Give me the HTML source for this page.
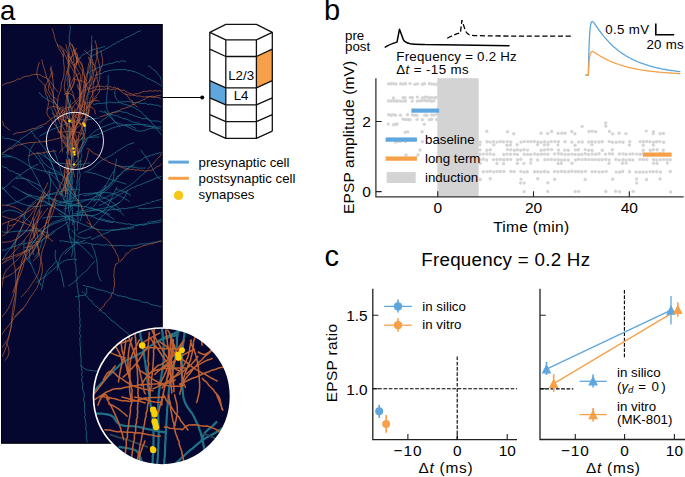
<!DOCTYPE html><html><head><meta charset="utf-8"><style>html,body{margin:0;padding:0;background:#fff;overflow:hidden}svg{display:block}text{font-family:"Liberation Sans",sans-serif}</style></head><body>
<svg width="685" height="477" viewBox="0 0 685 477">
<defs>
<clipPath id="rc"><rect x="1" y="24" width="161.6" height="419.6"/></clipPath>
<clipPath id="cc"><circle cx="162" cy="396.5" r="68.5"/></clipPath>
<g id="nrn"><g fill="none" stroke="#23778c" style="stroke-width:var(--tw)" stroke-linecap="round" stroke-linejoin="round">
<path d="M68.7 230.3L69.7 229.1 68.6 227.5 69 226.4 69 224.6 69.3 222.9 69.8 220.7 68.9 218.8 69.1 216.2 69.2 214 69.6 211.6 71.1 209.1 70.3 206.3 69.9 204.5 70 202 70 199.1 70.1 197.3 70.5 195.5 70 193.7 69.9 191.5 69.8 189.6 69.7 187.8 69.1 185.2 69.1 183.6 69.2 181.1 68.6 179.3 68.3 177.1 68.1 174.6 67.5 172.5 67.9 171 67.9 168.7 67.7 166.5 67.3 164.4 67.8 161.9 66.9 160.6 67.3 158.2 67.5 155.4 68.1 154.4 67.4 152 67.5 149.4 67.6 147.9 68.1 146 67.9 144.2 67.8 142 68.6 139.6 67.8 137.3 68.7 135.8 69.3 133.2 68.9 131.8 68.9 128.7 69.4 128.2 69.5 125 69.1 123.3 70.1 121.3 69.3 119.7 69.2 117.8 69 115 69.4 113.7 69.3 111.3 68.3 108.9 68.6 106.9 69 104.9 68.9 103 68.4 100.9 68.5 99.1 68.1 96.7 67.7 95.3 68.5 92.6 67.7 90.2 67.9 88.7 68.5 86.7 67.4 83.7 68.1 82.7 67 80.7 67 79.9 68 76.8 67.6 73.6 67.7 71.7 68 69.2 67.5 68.2 68.5 65.1 67.5 63.6 68.5 60.8 68.1 58.7 68 56.6 69 55 69.4 52.7 68.8 50.4 68.9 48.3 68.5 47.2 69.7 45.5 69.8 43.6 69.2 42 69.4 40.1 69.1 36.4 69.8 34 69.8 31.9 70.2 29.5 70.6 27.3 69.6 26.4 70.1 25.4 M77.1 230.2L77.4 230.1 77.2 228.6 77.6 227.3 77.3 224.9 77.4 223.9 78.1 221.2 77.9 219.2 78 216.8 77.9 214.1 77.9 212.8 78.4 209.8 78.3 207.4 78.6 204.7 78.6 202.6 78.4 199.9 78.4 197.5 79.2 195.2 78.8 193.9 78.8 192.2 79.5 190.2 79.1 188 79.2 186.5 79.2 183.8 79 181.7 79 180.5 79.7 177.9 80.2 175.7 80.1 174.1 79.4 171.2 79.7 170 80.6 167.2 80.6 165.4 80.3 163.3 80.4 160.8 80.4 158.9 81.1 158.1 82 155.3 80.7 153.3 81.1 152.1 81.9 149.2 82.2 147.6 81.5 145.3 82.3 143.5 82.6 141.3 82.9 139.2 82.8 138 83.4 135.6 83 133.4 84.1 131 84.4 129.3 84.4 127.4 84.6 125.9 84.6 124.1 84.7 121.2 85.5 119.2 85.4 117.8 86.2 114.9 86.2 114.1 86.7 111.4 86.3 109.4 86.4 107.4 87 105.4 87.7 103.4 87 101.9 87.4 99.4 88 97.4 87.9 95.4 89.3 93.3 88.7 91.8 89.2 89.7 89.5 86.6 89.1 85.2 89.8 83.5 89.9 80.8 89.9 78.9 90.1 77.1 90.1 74.5 90 72.9 90.9 70.6 90.9 68.2 90.7 65.8 90.4 63.2 90.6 61.1 90.8 58.5 91.2 56.7 90.9 53.6 91.5 51.3 91.5 49.3 91.4 46.8 91.7 45.3 91.2 44.3 91.8 43 91.8 40.1 91.7 39.3 91.8 37.6 92 36 M72.5 224.5L72.5 223.3 73 222 72.9 220.3 72.2 218.3 72.3 216.3 72.4 214.4 72.6 211.1 72 209.5 72.5 207.5 70.9 204.9 71.2 202.6 70.8 199.8 71 197.4 70.7 194.5 71 193.3 70.7 190.5 70.8 188.9 70.7 186.6 71.3 184.2 70.7 181.8 70.7 180.2 70.7 178.2 71.8 176.3 71.2 175.1 71.4 171.7 71.6 170 72.2 167.9 71.5 165.7 71.7 163.9 71.7 162 71.5 160.4 71.9 158.1 71.2 155.7 71.4 154.9 71 151.8 70.7 149.6 70.4 147.9 71.1 145.9 70.2 143.3 70.2 141.8 69.5 139.4 69.7 138.1 69.8 135.8 69.3 133.9 69.2 132.6 68.8 129.8 69.5 127.9 69.6 125.8 69.1 123.4 68.7 120.9 70 119.1 69.6 116.8 69.7 114.6 69.5 111.9 70.1 109.6 69.5 107.6 69.9 106 70 103.6 70.2 102.9 70.4 101.1 70.5 100 M39.6 92.7L39.5 93.5 41.5 94.7 42 96.2 44.5 97.6 47 99.3 48.1 100.3 50.1 101 52.6 102.2 54.6 103.1 56.5 104.9 58.2 106.1 59.7 107.5 61.8 109.2 64.2 111.6 64.9 113.3 66.9 115.8 67.6 116.3 68.2 118 M86.7 73.9L87.4 73.6 88.7 73 90.5 71.4 92.5 70.3 95.2 69.5 96.4 68 98.5 67.5 101.1 66.7 103.2 65 105.6 65.1 107.8 64 109.8 63.6 111.8 63.5 114.5 62.5 116.2 61.4 119.1 62.2 121.6 60.6 123.3 61.2 125.6 61.2 M78.4 58.1L79.6 58 81.2 56.6 82.6 54.7 84.6 54.1 86.4 53.1 88.8 51.7 90.7 50.3 93.7 49.6 95.6 49 97.8 48.2 99.9 48.1 102.8 46.9 103.9 47 104.9 46.5 M148.5 66.1L149.8 66.4 151.9 68.1 153.2 69.5 155.9 71.1 156.9 72.6 157.6 74 159.5 75.9 160.3 77.1 161.5 80.2 161.9 82.9 161.9 84.8 162.5 87.9 162.1 88.8 M93.2 104L94.7 104.3 96 103.8 97.7 103.6 99.3 103.3 101.3 103.6 102.3 103.4 105 102.9 106.9 103.1 109.3 101.7 111.5 102.7 114.1 102.6 116.1 103 119 102.1 121.4 102.1 123.3 101.5 125.8 101.8 126.8 101.3 129.7 101.8 131.8 102.1 134 102.6 136 102.2 138.7 102.8 141.2 103.4 143.1 103.6 145.8 103.2 147.8 104.6 150.4 104 151.3 104.3 153.9 104.9 156.9 105.4 157.9 105.1 158.9 105.6 160.5 106.9 161.6 105.8 M115.4 90.8L114.5 91.6 115 94.9 115.5 97.3 116.6 99.1 118.1 100.8 119.3 102.3 120.6 102.8 122.1 103.7 125 104.3 126.9 104.9 129.1 105.5 131.4 106.6 133.7 107.3 135.4 108.3 138.2 110.1 139.6 111 141.6 112 142.3 113.4 144.1 115.2 146.3 116.6 146.6 118.3 149.2 119.3 150.7 121.4 151.7 122.8 152.7 124.4 155.3 126.1 155.4 127.1 156.1 128.3 158.5 131.5 160.4 133.5 161.4 135 162.7 135.9 M100 111.2L100.8 111 102.7 112.2 104.5 112 106.4 113.1 108.4 113.8 110.4 114.3 113.1 114.8 114.5 115.6 117.3 115.7 119.1 117.2 121.2 117.6 122.9 118.6 126.1 119 127.2 119.4 129.7 120.6 131.1 121.7 133.7 122.2 134.8 122.7 137.8 123 140.2 124.6 142.2 124.4 143.9 125.6 146.9 126.3 149.4 126.4 151.3 126.3 154.2 128.3 156.1 127.9 158.6 128.7 159.8 128.7 161.6 130 163 129.9 M2.1 136.5L3.6 137.7 4.4 138.4 6.4 138.6 8.5 138.5 10.5 139.2 13.1 140 15.9 140.6 17.2 141.3 19.2 142 21.1 143.9 23.1 144.6 24.9 146.2 26.6 147.4 27.8 148.3 29.3 149.7 30.8 151.1 32.6 152.7 34.1 154.2 36.2 155.9 36.9 157.9 38.4 159.3 40 160.6 40 162.9 42.6 164 43.1 166.5 43.8 167.9 45.2 170 46.1 172.3 47.8 174.1 48.9 175.1 50 177.3 51.1 179.3 52.1 181.3 53.5 183.4 53.9 184.7 56.1 186.9 56.8 188.7 58.3 191.1 59.9 192.9 62 194.2 62.2 195.9 63.3 198.5 65.1 200.3 65.3 200.8 67.4 202.7 67.9 203.6 M-0.2 165.2L1 165.5 3.2 166.4 3.9 167.5 6.7 167.6 7.5 169 9.6 170.8 12.1 171 14.2 172 15.9 173.5 19 173.9 20.2 176.3 21.9 177.6 23.5 178.1 24.9 178.9 27.2 180 28.2 181.5 29.6 182.1 31.3 184.2 33.2 185.7 34.7 186.5 36.5 188.2 37.8 188.6 39.5 190.7 42 191.2 43.6 193.1 46.1 193.9 47.6 195.9 50.7 197.3 51.5 198.2 53.8 199.2 55.6 200.2 57.5 202.1 59.3 202.6 60.4 203 61.4 204.3 M163.6 152L162.2 152.1 161 153.1 159.8 152.7 157.2 153.6 155.7 153.7 153.9 154.6 151.5 155.1 149 155.9 146.4 157.1 144.8 157.2 142.5 159.3 140.3 160.4 138.6 160.9 136.6 161.6 134.7 162.7 133.7 164.4 132.3 165.5 129.8 166.8 128.3 168.6 127.3 169.7 124.5 170.6 123.2 171.9 121.6 173.8 120 175 117.7 176.1 116.4 178.2 115.4 179.4 113.5 180.6 112 182.4 110.3 183 108.6 185.4 106.4 187.2 105 188.7 102.6 190.6 101.8 192.2 99.6 194.1 98.9 195.6 97.5 196.9 95.9 198.6 94.9 199.7 95.2 200.9 93.3 201 M163.6 175.7L162.3 176.3 160.4 176.6 158.5 177.8 157.2 177.7 155 178.5 152 180 149.8 180.8 148 181.6 145.8 182.6 143.5 183.3 141.4 184.3 139.2 185.1 137.9 185.6 135.7 186.3 133.6 187.4 131.7 187.9 130 189.2 128.3 190.3 125.8 191.5 124.5 191.7 122.7 193 121.4 193.6 119.5 194.1 117.8 195.5 115.5 197 114.2 198.1 111.2 199.5 109.2 200.1 107 201.5 105.5 202.4 103.4 203.4 101.7 204.7 100.3 205 99.3 205.4 M162.9 198.3L161.5 199.2 160.1 199.5 158.9 200.1 155.8 200.4 154.6 201.4 151.7 201.5 149.8 203.4 146.9 202.9 145.2 204.2 142.5 204.9 140.1 205.7 138.9 206.1 136.4 206.7 134.7 206.9 132.4 207.3 131 207.9 128.8 207.9 126.5 208.4 125 208.7 122.6 208.2 120.7 208.8 118.4 209.3 117 209.5 115.1 209.7 112.1 209.5 110 210.1 108 210.1 105.6 209.9 102.7 210.8 100.5 210.7 97.3 209.8 95.5 210.8 94.3 210.2 91.6 210.1 90.1 210.7 89.1 211.2 M163.9 221.3L162.5 221.8 160.7 221.6 159.3 222.2 156.5 222.7 153.9 223 151.5 223.3 148.9 223.6 147.3 224.1 144.2 225.1 142.1 225.2 140.1 224.3 138.5 224.7 135.9 225.2 133.1 224.7 131.2 224.7 129.3 223.8 127.3 224.2 125 223.8 122.8 223.2 120.9 222.9 119.1 222.9 116.6 222.4 114 221.3 111.8 221.8 109.1 220.7 106.7 220.7 104.6 219.5 102.5 219.2 100.9 218.8 99.4 219.4 M89.3 58.7L90 57.5 91.6 56.9 92.6 55.4 95.4 54.6 97.2 53.1 99.3 51.9 102.8 50.4 104.6 49.7 105.8 48.7 107.4 48.2 109.6 46.7 111.3 45.7 112.9 44.5 115 43.8 117.4 41.9 119.1 41.8 120.6 40.1 123.2 39.5 124.5 38.2 126.8 37.4 128.9 36.6 131.2 35.3 132.9 34.4 135 33.4 136.6 32.4 138.2 31.5 139.9 31.4 140.7 30.6 M95 75.2L96.7 74.4 98.5 74.4 99.7 73.2 101.9 73.7 105 71.3 106 71.6 108.9 70.5 111.5 70.2 113.7 69.8 115.3 69.9 117.5 69.8 120 69.4 121.8 69.5 123.2 69.6 126 69.5 127.4 70.8 130.2 70.3 132 71.2 134.1 71.7 135.5 72 137.8 73 139.7 73.9 141.8 75.2 143.7 75.6 145.7 77.6 147.8 78.5 150.1 79.2 151.9 80.5 154 81.4 156.3 82.5 158.5 83.9 160.8 85.4 162.1 86.5 164 86.9 M100.1 123.2L99.5 122.1 101.8 121.1 103.2 119.2 105 118.5 107.3 116.5 109.2 115.4 111.4 113.8 113.1 112.4 115.3 111.7 117.1 110.9 119.8 111 121.1 111.6 124.1 112.4 125.5 112.2 127.6 113 129.8 114.3 131.8 114.7 134.2 115.9 136.2 116.4 138.1 117.1 140.8 117.9 141.6 118.7 144.9 118.7 147.1 118.4 148.9 120.4 152.5 121.2 153.7 120.9 156.3 120.9 158.6 121.4 159.8 121.6 161.3 122.3 162.7 122.1 M77 211.4L78.9 211.2 80.9 210.9 82.9 210.7 84.9 210.3 86.8 209.8 88.7 209.1 90.5 208.3 92.3 207.4 93.8 206.1 95.2 204.6 96.3 203 97.4 201.3 98.5 199.6 99.4 197.8 100.3 196.1 101.2 194.3 102.1 192.5 103.1 190.8 104.1 189 105.1 187.3 106.1 185.6 M98.5 199.6L100.2 200.7 102 201.5 103.7 202.4 105.5 203.4 107.2 204.5 108.8 205.6 110.5 206.7 112.2 207.7 114 208.6 115.8 209.4 117.7 210.2 119.4 211.3 121 212.5 122.4 213.9 123.7 215.4 M79.5 206.2L77.5 206 75.5 205.8 73.5 205.6 71.5 205.4 69.5 205.3 67.5 205.3 65.5 205.3 63.5 205.3 61.5 205.3 59.5 205.2 57.5 205.2 55.5 205.1 53.5 205.1 51.5 205 49.5 204.9 47.5 205 45.5 205.2 43.6 205.4 41.6 205.8 39.6 206.2 37.7 206.5 35.7 206.5 33.7 206.5 31.7 206.2 29.7 205.9 27.7 205.5 25.8 205 23.9 204.4 22 203.8 20.1 203.1 18.3 202.3 16.5 201.4 14.8 200.3 13.3 199 11.9 197.6 10.5 196.2 9.1 194.7 7.7 193.2 6.4 191.8 5.1 190.2 3.8 188.7 2.5 187.2 1 185.9 -0.7 184.8 -2.3 183.6 -4 182.6 -5.8 181.6 -7.6 180.8 -9.5 180.1 M6.4 191.8L4.9 190.4 3.5 189 1.9 187.8 0.4 186.5 -1.3 185.4 -3 184.3 -4.7 183.3 -6.5 182.5 M70.3 219.6L68.3 219.6 66.3 219.8 64.4 220.2 62.4 220.7 60.5 221.3 58.6 221.9 56.7 222.6 54.8 223.3 53 224.1 51.2 225 49.5 225.9 47.8 227 46.2 228.2 44.7 229.5 43.3 231 42.1 232.5 40.7 234 39.3 235.5 38 236.9 36.6 238.4 35.2 239.8 34 241.4 32.9 243.1 31.8 244.8 31 246.6 30.4 248.5 29.8 250.4 29.6 252.4 29.4 254.4 29.4 256.4 29.5 258.4 29.9 260.4 30.4 262.3 31.1 264.2 31.9 266 32.6 267.9 33.4 269.7 34.2 271.6 35 273.4 35.9 275.2 36.8 276.9 37.8 278.7 38.6 280.5 39.6 282.3 40.4 284.1 41.2 285.9 M31.1 264.2L29.7 262.7 28.5 261.2 27.3 259.5 26.4 257.8 25.5 255.9 24.9 254.1 24.4 252.1 24 250.2 23.8 248.2 23.8 246.2 23.9 244.2 24.1 242.2 24.2 240.2 M68.3 211.5L68.5 209.5 68.4 207.5 68.4 205.5 68.3 203.5 68.1 201.5 67.9 199.5 67.7 197.5 67.7 195.5 67.7 193.5 67.7 191.5 67.8 189.5 68.1 187.5 68.3 185.5 68.5 183.5 68.7 181.5 68.9 179.6 69.2 177.6 69.6 175.6 70 173.6 70.4 171.7 70.8 169.7 71.2 167.8 71.4 165.8 71.5 163.8 71.5 161.8 71.7 159.8 71.9 157.8 72.4 155.9 73 153.9 73.7 152.1 M68.8 185.9L68.3 187.8 67.9 189.8 67.6 191.8 67.3 193.7 67.1 195.7 67 197.7 66.9 199.7 66.7 201.7 66.4 203.7 65.9 205.6 65.6 207.6 65.4 209.6 65.2 211.6 65.1 213.6 65.1 215.6 65.1 217.6 65.6 219.5 66.1 221.5 66.6 223.4 67.3 225.3 67.9 227.2 68.5 229.1 68.8 231.1 69.1 233.1 69.4 235 69.8 237 70.2 238.9 70.8 240.9 71.5 242.7 72.2 244.6 72.7 246.5 72.8 248.5 72.7 250.5 72.4 252.5 72 254.5 71.6 256.4 M79.3 205.3L77.3 205 75.3 204.7 73.3 204.3 71.4 204 69.4 203.7 67.4 203.4 65.5 202.8 63.6 202.2 61.7 201.7 59.7 201.2 57.8 200.6 55.9 200.1 53.9 199.6 52 199.1 50 198.7 48.1 198.4 46.1 198.1 44.1 197.9 42.1 197.6 40.1 197.4 38.2 197 36.2 196.6 34.3 196.2 32.3 195.7 30.4 195.2 28.5 194.6 26.6 193.8 24.8 193 23 192.1 21.2 191.2 19.5 190.2 17.8 189.2 16.1 188.2 14.3 187.2 12.5 186.3 M30.4 195.2L28.6 196.1 26.8 197 25 197.9 23.2 198.8 21.4 199.7 19.7 200.6 17.9 201.5 16 202.4 14.2 203 12.2 203.6 10.3 204 8.3 204.5 6.4 205 M60.1 202.6L62 202.3 64 202 66 201.8 68 201.5 70 201.4 72 201.2 73.9 200.9 75.9 200.7 77.9 200.5 79.9 200.3 81.9 200.1 83.9 199.9 85.9 199.7 87.9 199.7 89.9 199.7 91.9 199.7 93.9 199.7 95.9 199.6 97.9 199.6 99.9 199.3 101.8 198.9 103.7 198.3 105.6 197.5 107.4 196.7 109.2 195.8 111 195 112.8 194.2 114.7 193.4 116.5 192.7 118.4 191.9 120.2 191.1 122 190.3 123.8 189.3 125.5 188.2 127.1 187.1 128.8 186 130.4 184.9 132.1 183.7 133.7 182.5 135.2 181.2 136.7 179.9 138.1 178.5 139.6 177.1 141.1 175.8 142.6 174.5 144.1 173.2 145.7 172 147.3 170.8 M67.6 222.2L66 223.4 64.4 224.5 62.7 225.7 61.1 226.8 59.4 228 57.7 229 55.9 229.9 54.2 230.9 52.5 231.9 50.8 233.1 49.3 234.3 47.7 235.5 46 236.7 44.4 237.9 42.9 239.1 41.4 240.5 40 241.9 38.7 243.4 37.5 245.1 36.4 246.7 35.3 248.4 34.2 250 33.1 251.7 31.9 253.3 30.8 255 29.7 256.6 28.6 258.3 27.4 259.9 M42.9 239.1L42.2 241 41.6 242.9 41 244.8 40.4 246.8 39.9 248.7 39.1 250.5 38.3 252.3 37.2 254 36 255.6 34.7 257.1 M79.1 189.5L77.2 189.3 75.2 189.2 73.2 189.2 71.2 189.2 69.2 189.3 67.2 189.7 65.3 190.2 63.3 190.7 61.4 191.3 59.5 191.7 57.5 192.1 55.5 192.5 53.6 193 51.7 193.6 49.8 194.2 47.9 194.9 46.1 195.7 44.3 196.7 42.7 197.8 41.2 199.2 39.9 200.6 38.6 202.2 37.4 203.8 M67 216.7L65.3 217.7 63.5 218.5 61.6 219.2 59.7 220 57.8 220.6 55.9 221.2 54.1 222 52.3 222.9 50.6 224 49 225.2 47.5 226.4 46 227.8 44.7 229.3 43.4 230.8 42 232.3 40.7 233.7 39.3 235.2 38 236.7 36.7 238.2 35.3 239.7 34.1 241.2 32.9 242.8 31.7 244.5 30.5 246.1 29.5 247.8 28.7 249.6 27.9 251.5 M43.4 230.8L41.4 230.4 39.5 229.7 37.8 228.8 36.1 227.7 34.5 226.4 33.1 225.1 31.7 223.6 30.2 222.3 28.7 221 27.1 219.7 25.5 218.5 23.9 217.3 22.3 216.2 20.5 215.2 M61.2 190.4L62.8 189.2 64.3 188 65.8 186.7 67.2 185.2 68.3 183.5 69.4 181.8 70.2 180 71 178.2 71.6 176.3 72.3 174.4 72.9 172.5 73.4 170.5 73.7 168.6 73.9 166.6 74 164.6 73.9 162.6 73.8 160.6 73.7 158.6 73.4 156.6 73 154.7 72.6 152.7 72.2 150.7 71.8 148.8 71.2 146.9 70.4 145 69.6 143.2 68.6 141.5 67.4 139.8 66.1 138.4 64.6 137.1 63.1 135.7 61.6 134.4 60.2 133 58.9 131.4 57.9 129.7 57.2 127.8 56.6 125.9 56.1 124 55.6 122 55.2 120.1 54.8 118.1 54.2 116.2 53.6 114.3 53 112.4 52.3 110.5 51.6 108.7 M63.5 203.2L65.2 202.2 66.9 201.2 68.6 200.2 70.4 199.2 72.1 198.1 73.8 197.1 75.6 196.3 77.5 195.5 79.3 194.8 81.3 194.3 83.2 193.9 85.2 193.6 87.2 193.5 89.2 193.4 91.2 193.2 93.2 193.1 95.2 193 97.2 192.8 99.2 192.7 101.2 192.6 103.2 192.6 105.2 192.6 107.2 192.6 109.2 192.8 111.1 193.2 113.1 193.5 115 194 116.9 194.7 118.8 195.5 120.6 196.3 122.3 197.3 124.1 198.2 125.9 199.2 127.5 200.2 129.2 201.4 M95.2 193L97 193.8 98.7 194.9 100.3 196 102.1 197 103.9 197.8 105.7 198.6 107.6 199.4 109.3 200.4 111 201.4 112.7 202.6 114.3 203.8 115.8 205.1 117.1 206.5 118.5 208 119.8 209.6 121 211.1 M75.5 199.5L73.8 198.5 72.2 197.3 70.7 196 69.2 194.6 68.1 193 67.2 191.2 66.5 189.3 66 187.4 65.3 185.5 64.9 183.5 64.5 181.6 64 179.6 63.5 177.7 62.8 175.8 62 174 61.2 172.2 60.6 170.2 60.1 168.3 59.6 166.4 58.9 164.5 58.3 162.6 57.6 160.7 57 158.8 56.4 156.9 55.7 155 54.8 153.2 53.9 151.4 53.1 149.6 M83.9 195.5L85.9 195.3 87.9 195.1 89.9 194.8 91.8 194.3 93.7 193.8 95.7 193.2 97.6 192.6 99.4 191.9 101.2 191.1 103 190.2 104.8 189.2 106.5 188.1 108 186.9 109.5 185.5 110.8 184 111.9 182.3 112.7 180.5 113.3 178.6 113.7 176.6 113.9 174.7 114.2 172.7 114.5 170.7 114.8 168.7 115.2 166.8 115.6 164.8 116 162.8 116.3 160.9 116.5 158.9 M115.6 164.8L117.5 165.6 119.4 166 121.4 166.3 123.4 166.5 125.4 166.5 127.4 166.4 129.4 166.5 131.4 166.8 133.3 167.2 135.3 167.5 137.3 167.9 139.3 168.1 141.3 168.2 143.3 168.1 145.3 168 M76.5 216.4L77.9 214.9 79.3 213.4 80.6 211.9 81.9 210.5 83.3 209 84.7 207.5 86.1 206.2 87.6 204.8 88.9 203.3 90.3 201.9 91.6 200.4 93 198.9 94.3 197.4 95.6 195.9 97 194.5 98.4 193 99.8 191.6 101.2 190.1 102.5 188.6 103.9 187.2 105.2 185.7 106.5 184.1 107.5 182.4 108.5 180.7 109.4 178.9 110.3 177.1 111.2 175.3 112.3 173.6 113.4 172 114.5 170.3 M66.2 206.3L64.2 205.9 62.2 205.4 60.3 204.9 58.4 204.3 56.6 203.5 54.9 202.4 53.3 201.1 51.8 199.8 50.3 198.6 48.7 197.3 47.2 196 45.8 194.5 44.7 192.9 43.6 191.2 42.5 189.5 41.5 187.8 40.5 186.1 39.7 184.3 38.9 182.4 38.1 180.6 37.2 178.8 36.1 177.1 35.2 175.4 34.2 173.6 33.2 171.8 32.3 170.1 31.3 168.4 30.3 166.6 29.5 164.8 29 162.9 28.7 160.9 28.6 158.9 28.8 156.9 29.1 154.9 29.4 152.9 30 151 30.7 149.2 31.6 147.4 32.7 145.7 33.8 144 35 142.4 M40.5 186.1L38.8 185.1 37 184.2 35.2 183.3 33.4 182.5 31.6 181.5 29.8 180.6 28 179.9 26.1 179.3 24.2 178.7 22.2 178.3 20.2 178.2 18.2 178.3 16.2 178.6 M63.9 209.1L65.8 208.5 67.7 207.8 69.5 207 71.3 206.1 73.1 205.2 74.9 204.3 76.8 203.6 78.6 203 80.5 202.3 82.5 201.7 84.3 201 86.2 200.3 88.1 199.6 90 199 91.9 198.4 93.7 197.6 95.5 196.7 97.3 195.9 99.2 195.1 101 194.2 102.6 193.1 104.3 191.9 105.8 190.7 107.3 189.4 108.8 188 110.2 186.6 111.6 185.1 112.9 183.7 114.2 182.1 115.4 180.6 116.6 179 117.9 177.4 119.1 175.8 120.4 174.3 121.7 172.8 123.1 171.4 124.7 170.1 126.4 169.1 128.1 168.1 129.9 167.1 131.7 166.2 133.5 165.4 M69.9 191L71.2 192.6 72.4 194.2 73.6 195.8 74.9 197.3 76.2 198.8 77.5 200.4 78.8 201.9 80 203.5 81 205.2 81.7 207.1 82.1 209.1 82.2 211 82.2 213 81.9 215 81.4 217 80.8 218.9 80.2 220.8 M69.1 198.9L69.6 197 70.1 195.1 70.6 193.1 71.1 191.2 71.6 189.2 71.9 187.3 72.1 185.3 72.2 183.3 72.3 181.3 72.3 179.3 72.2 177.3 72 175.3 71.8 173.3 71.5 171.3 71.2 169.3 70.8 167.4 70.4 165.4 69.8 163.5 69.3 161.6 68.7 159.7 68.1 157.8 67.5 155.9 67 153.9 66.4 152 M72.2 183.3L71.8 181.3 71.3 179.4 70.6 177.5 70 175.6 69.3 173.7 68.4 171.9 67.3 170.3 66.1 168.6 M71.9 202.1L72.8 200.3 73.5 198.4 74.1 196.5 74.7 194.6 75.3 192.7 75.9 190.8 76.4 188.8 76.8 186.9 77 184.9 77.1 182.9 77.2 180.9 77.4 178.9 77.5 176.9 77.6 174.9 77.8 172.9 77.9 170.9 78.1 168.9 78.1 166.9 78.2 164.9 78.2 162.9 78.2 160.9 78.2 158.9 78.4 157 78.7 155 79.2 153 79.7 151.1 80.4 149.2 81.3 147.4 82.2 145.7 83.2 143.9 84.2 142.2 85.3 140.5 86.4 138.9 M61.3 194.4L59.4 194.1 57.4 194 55.4 194 53.4 194.1 51.4 194.3 49.4 194.7 47.5 195.2 45.6 195.8 43.7 196.5 41.8 197.3 40 198 38.2 198.9 36.5 199.9 34.8 201.1 33.3 202.4 31.8 203.7 30.4 205.2 29.1 206.7 27.9 208.2 26.8 209.9 25.8 211.6 25.2 213.5 24.7 215.5 24.2 217.4 23.9 219.4 23.5 221.4 23.1 223.3 22.6 225.3 21.9 227.1 21.2 229 20.6 230.9 20 232.8 19.4 234.7 18.6 236.6 17.8 238.4 16.7 240.1 15.6 241.7 14.4 243.4 13.4 245.1 12.5 246.9 11.6 248.7 M24.7 215.5L22.9 214.5 21.2 213.5 19.3 212.7 17.5 212 15.6 211.3 13.7 210.7 11.7 210.3 9.7 210.1 7.8 210.3 5.8 210.8 4 211.6 2.4 212.7 1 214.2 -0.2 215.8 M75.2 194.8L74.8 192.9 74.3 190.9 73.5 189.1 72.5 187.4 71.4 185.7 70.3 184 69 182.5 67.7 181 66.3 179.6 64.9 178.2 63.5 176.7 62.1 175.3 60.6 173.9 59 172.7 57.3 171.6 55.6 170.6 53.8 169.8 52 169 50.2 168 48.5 166.9 47 165.7 45.4 164.4 44 163 42.7 161.5 41.6 159.8 40.5 158.1 39.5 156.4 38.4 154.7 37.3 153.1 M74.3 213.7L76.3 213.5 78.2 213.2 80.2 213 82.2 212.6 84.1 212.2 86.1 211.8 88.1 211.3 90 210.9 92 210.4 93.9 209.9 95.9 209.5 97.8 209.1 99.8 208.8 101.8 208.4 103.7 208.2 105.7 207.9 107.7 207.5 109.6 207 111.5 206.4 113.4 205.7 115.2 205 117 204 118.7 203 120.3 201.8 121.8 200.5 123.1 199 124.3 197.3 125.4 195.6 126.2 193.8 126.9 192 127.6 190.1 M69.2 205.4L71.2 205.3 73.2 205.5 75.2 205.6 77.2 205.8 79.2 205.9 81.2 206.1 83.1 206.4 85.1 206.7 87.1 207.1 89 207.6 90.9 208.2 92.9 208.7 94.8 209.2 96.7 209.7 98.7 210.1 100.6 210.7 102.5 211.4 104.3 212.1 106.2 212.8 108 213.7 109.8 214.6 M92.9 208.7L94.8 209.3 96.7 209.8 98.6 210.3 100.5 211 102.3 211.9 104.1 212.9 105.8 213.9 107.4 215 109.1 216.1 110.8 217.2 112.5 218.3 114.1 219.4 M68.2 216.6L70.1 216.2 72.1 215.9 74.1 215.6 76.1 215.4 78.1 215.4 80.1 215.4 82.1 215.5 84 215.6 86 215.6 88 215.7 90 215.7 92 215.6 94 215.3 96 214.8 97.8 214.1 99.6 213.2 101.4 212.2 103.1 211.1 104.6 209.9 105.9 208.4 107.1 206.8 108.2 205.1 109.2 203.3 110.1 201.5 110.9 199.7 111.7 197.9 112.5 196.1 113.4 194.3 114.2 192.5 115.1 190.6 116 188.9 117.1 187.2 M116 188.9L117.9 189.5 119.7 190.3 121.6 190.9 123.5 191.6 125.4 192.4 127.2 193.2 128.9 194.2 130.6 195.2 M59 213.7L60.7 214.6 62.5 215.6 64.3 216.6 66 217.5 67.8 218.3 69.7 219.1 71.6 219.8 73.4 220.5 75.3 221.3 77.1 222 79 222.8 80.8 223.5 82.7 224.3 84.5 225 86.4 225.7 88.3 226.4 90.2 227.1 92.1 227.8 93.9 228.5 95.8 229.1 97.8 229.6 99.8 229.8 101.7 230.1 103.7 230.2 105.7 230.2 107.7 230.2 109.7 230.1 111.7 230 113.7 229.8 115.7 229.6 117.7 229.5 119.7 229.4 121.7 229.3 123.7 229.2 125.7 229 127.7 228.7 129.7 228.5 131.6 228.2 133.6 227.8 M65 177.5L63.3 176.4 61.6 175.4 59.7 174.6 57.8 174 55.9 173.6 53.9 173.2 51.9 172.8 50 172.5 48 172.1 46.1 171.6 44.1 171.1 42.2 170.6 40.3 170.2 38.3 169.7 36.4 169.2 34.5 168.6 32.6 167.9 30.8 167 29.1 166 27.4 164.9 25.7 163.8 24 162.7 22.3 161.7 20.6 160.6 18.9 159.7 17.1 158.8 15.3 158 13.4 157.3 11.5 156.6 9.6 156 7.6 155.6 5.7 155.1 3.7 154.7 1.8 154.3 -0.2 153.9 -2.2 153.6 -4.2 153.5 M11.5 156.6L9.5 156.7 7.5 156.7 5.5 156.9 3.5 156.8 1.5 156.9 -0.5 156.9 -2.5 156.9 -4.5 157.1 -6.5 157.4 -8.4 157.7 -10.4 157.9 -12.4 158.1 -14.4 158.2 M74.1 195.1L72.6 193.8 71 192.6 69.4 191.4 68 190 66.6 188.5 65.3 187 64 185.5 62.5 184.2 61 182.9 59.4 181.6 57.9 180.3 56.4 179 54.8 177.7 53.4 176.3 51.9 175 50.5 173.6 49 172.2 M57.9 180.3L57.5 178.3 56.8 176.5 56 174.6 55.1 172.8 54.5 170.9 53.8 169.1 53.1 167.2 52.4 165.3 51.5 163.5 50.5 161.8 49.2 160.3 47.8 158.9 46.2 157.6 44.6 156.5 42.9 155.4 41.1 154.4 39.4 153.4 37.6 152.5 M75.5 219.6L73.7 218.6 71.9 217.7 70.1 216.9 68.3 216.1 66.5 215.1 64.8 214.2 63.1 213.1 61.4 212 59.7 210.9 58 209.8 56.4 208.7 54.7 207.6 53.1 206.5 51.5 205.3 49.8 204.2 48.1 203.1 46.4 202 44.8 200.9 43.2 199.7 M49.8 204.2L49.2 202.3 48.8 200.3 48.7 198.3 49 196.3 49.3 194.4 49.7 192.4 49.9 190.4 50 188.4 50.3 186.4 50.5 184.4 50.6 182.4 50.4 180.4 50.1 178.5 49.7 176.5 49.4 174.5 49.3 172.5 49.2 170.5 M74.2 222L72.4 221 70.8 219.8 69.3 218.5 68 217 66.6 215.6 65 214.3 63.5 213 61.9 211.9 60.2 210.8 58.5 209.7 56.8 208.6 55.1 207.7 53.3 206.7 51.6 205.7 49.8 204.8 48.1 203.8 46.3 202.9 44.5 202.1 42.6 201.3 40.7 200.7 38.9 199.9 37 199.2 35.1 198.4 33.3 197.6 31.5 196.9 29.6 196.1 27.8 195.2 26.1 194.2 24.4 193.1 22.8 192 M35.2 228.2L33.3 228.8 31.4 229.5 29.5 230.1 27.7 231 25.9 231.8 24.2 232.8 22.5 233.9 20.9 235.2 19.5 236.6 18 237.9 16.6 239.4 15.4 240.9 14.2 242.6 13.1 244.2 12 245.9 10.8 247.5 9.6 249.1 8.5 250.7 7.3 252.4 6.2 254 5.2 255.7 4.2 257.5 3.1 259.2 2 260.8 0.7 262.3 -0.6 263.9 -2.1 265.2 -3.7 266.4 M89.7 162.7L87.8 163.2 85.8 163.7 83.9 164.1 81.9 164.3 79.9 164.6 77.9 164.9 75.9 164.9 73.9 164.7 72 164.4 70 164 68 163.8 66 163.7 64 163.6 62 163.6 60 163.4 58.1 163.1 56.1 162.7 54.2 162.1 52.3 161.3 50.6 160.3 48.9 159.2 47.4 158 46 156.5 44.8 154.9 43.8 153.2 M120.2 126.6L118.6 125.4 117.2 124 115.7 122.7 114.4 121.2 113.2 119.6 112.1 117.9 110.9 116.3 109.8 114.6 108.7 112.9 107.9 111.1 107.1 109.3 106.5 107.4 106.2 105.4 106.2 103.4 106.3 101.4 106.5 99.4 106.7 97.4 106.8 95.4 107.1 93.4 107.3 91.5 107.6 89.5 107.8 87.5 107.9 85.5 108.1 83.5 108.2 81.5 108.2 79.5 108.2 77.5 108.1 75.5 M90.4 136.6L92.3 136.1 94.2 135.6 96.2 135.1 98.1 134.4 99.9 133.6 101.7 132.7 103.4 131.8 105.3 130.9 107.1 130.1 108.9 129.4 110.8 128.6 112.6 127.9 114.6 127.3 116.5 126.8 118.4 126.3 120.4 125.8 122.3 125.3 124.3 125.2 126.3 125.2 128.3 125.4 130.3 125.8 132.1 126.6 133.9 127.4 135.7 128.4 M59.7 152.5L60.8 150.8 62.1 149.3 63.5 147.9 65 146.6 66.7 145.6 68.5 144.6 70.3 143.7 72.1 142.9 73.9 142 75.7 141.1 77.5 140.3 79.4 139.6 81.3 139 83.2 138.5 85.2 138.2 87.2 137.9 89.2 137.6 91.1 137.4 93.1 137.2 95.1 137 97.1 137 99.1 137.1 M38.1 164.4L36.2 165.1 34.4 165.9 32.6 166.8 30.9 167.9 29.2 168.9 27.5 169.9 25.8 171 24.1 172.1 22.5 173.2 20.9 174.5 19.3 175.6 17.6 176.6 15.9 177.7 14.2 178.8 12.7 180.1 11.2 181.4 9.7 182.8 8.5 184.3 7.1 185.8 5.4 186.9 3.7 188 2 189 0.4 190.1 -1.3 191.3 -2.8 192.6 -4.3 193.9 -5.6 195.4 -6.8 197 -7.9 198.7 -8.8 200.5 -9.9 202.1 -11.1 203.8 -12.2 205.4 -13.3 207.1 -14.5 208.7 M46.8 232.6L44.9 232 43 231.5 41 231.2 39 231 37 230.9 35 230.8 33 230.8 31 230.7 29 230.6 27 230.6 25 230.7 23 230.9 21 231 19 231 17 231.2 15.1 231.4 13.1 231.6 11.1 231.9 9.1 232.2 7.1 232.3 5.1 232.3 3.1 232 1.3 231.3 -0.5 230.4 -2 229.1 -3.3 227.6 -4.3 225.8 -5.1 224 -5.8 222.1 -6.3 220.2 -6.7 218.2 -6.9 216.2 -7.1 214.2 -7.2 212.2 -7.4 210.2 -7.6 208.3 -7.8 206.3 -8 204.3 -8.2 202.3 M114.9 122.6L113 123.2 111.1 123.9 109.2 124.5 107.3 125.1 105.4 125.9 103.6 126.7 101.8 127.4 100 128.3 98.2 129.2 96.5 130.2 94.8 131.3 93.2 132.5 91.6 133.8 90.3 135.2 88.9 136.7 87.7 138.3 86.6 140 85.8 141.8 84.9 143.6 84.1 145.4 83.1 147.2 82.1 148.9 80.9 150.5 79.6 152 78.1 153.4 76.6 154.6 M113 222.5L111 222.3 109 221.9 107 221.6 105.1 221.2 103.2 220.6 101.2 220.1 99.4 219.4 97.5 218.8 95.6 218 93.8 217.2 91.9 216.4 90.1 215.7 88.2 215 86.2 214.6 84.3 214.3 82.3 214.4 80.3 214.6 78.3 214.9 76.3 215.2 74.3 215.4 72.4 215.8 70.4 216.1 68.4 216.3 66.4 216.4 64.4 216.5 62.4 216.6 60.4 216.7 58.4 216.7 56.4 216.6 54.4 216.6 52.4 216.7 50.4 216.7 48.4 216.9 46.5 217.3 44.5 217.7 42.6 218.2 M126 184L124.1 183.4 122.2 182.8 120.3 182.2 118.4 181.6 116.5 181.1 114.5 180.5 112.6 180 110.7 179.4 108.8 178.9 106.9 178.2 105 177.5 103.2 176.7 101.3 175.9 99.5 175.2 97.6 174.4 95.7 173.8 93.8 173.3 91.8 172.9 89.9 172.7 87.9 172.5 M125.5 124.5L127.5 124.6 129.5 124.6 131.5 124.6 133.5 124.5 135.5 124.4 137.5 124.4 139.5 124.3 141.5 124.3 143.5 124.4 145.4 124.7 147.4 125 149.3 125.6 151.2 126.2 153.2 126.7 155.2 127 157.2 127.1 159.2 127 161.2 127 163.2 126.9 165.2 126.9 167.1 127 169.1 127 171.1 126.9 173.1 126.8 175.1 126.6 177.1 126.5 M104.7 110.8L106 112.4 107.2 114 108.4 115.5 109.8 116.9 111.3 118.3 112.7 119.7 114.2 121.1 115.9 122.2 117.7 123.1 119.5 123.7 121.5 124.3 123.4 124.9 125.2 125.6 127.1 126.5 128.9 127.3 130.7 128.2 132.4 129.1 134.3 129.8 136.2 130.5 138.1 131 140.1 131.1 142.1 131 144.1 130.6 146 130 147.8 129.2 149.7 128.6 151.7 128.1 153.7 127.9 M43.1 126.6L41.2 127.3 39.3 127.9 37.4 128.6 35.6 129.3 33.8 130.2 32 131.2 30.4 132.3 28.8 133.5 27.2 134.7 25.6 135.9 23.9 137 22.3 138.1 20.7 139.4 19.2 140.7 17.7 142.1 16.2 143.4 14.7 144.6 13 145.8 11.4 146.9 9.8 148.1 8.2 149.3 6.5 150.5 4.9 151.6 3.2 152.7 1.6 153.8 -0.2 154.8 -1.8 156 -3.3 157.3 -4.6 158.8 -5.9 160.4 M138.7 208.4L140.7 208.5 142.7 208.6 144.7 208.5 146.7 208.4 148.7 208.4 150.7 208.3 152.7 208.1 154.7 207.8 156.7 207.6 158.7 207.4 160.7 207.4 162.7 207.5 164.6 207.6 166.6 207.7 168.6 207.9 170.6 207.8 172.6 207.6 174.6 207.3 176.6 206.9 178.5 206.5 180.5 206.1 182.4 205.5 184.3 205 186.3 204.6 188.2 204.1 190.2 203.6 192.1 203.2 194.1 202.9 196.1 203 198.1 203.2 200 203.7 201.9 204.3 203.8 205 205.7 205.7 207.5 206.5 M39.8 136.1L41.5 135.1 43.2 134.1 45 133.1 46.7 132 48.4 131.1 50.2 130.3 52.1 129.5 53.9 128.7 55.8 128 57.7 127.4 59.5 126.6 61.4 125.8 63.2 125 65.1 124.2 66.9 123.5 68.9 123 70.8 122.6 72.8 122.1 74.7 121.5 76.5 120.7 78.4 120.1 80.4 119.8 82.4 119.7 84.4 119.8 86.4 119.8 88.4 119.7 90.3 119.4 92.3 118.9 94.3 118.6 96.3 118.4 98.2 118.2 M141 149.9L142.1 151.6 143.1 153.3 144.3 154.9 145.5 156.5 146.7 158.1 147.8 159.8 148.9 161.5 149.8 163.2 150.8 165 151.7 166.8 152.5 168.6 153.4 170.4 154.3 172.2 155.3 173.9 156.5 175.5 157.8 177 159.3 178.3 160.9 179.5 M78.5 233.4L80.3 232.6 82.1 231.7 83.9 230.9 85.8 230.2 87.7 229.6 89.6 228.9 91.3 227.9 92.9 226.7 94.3 225.3 95.6 223.8 96.9 222.2 98 220.6 99.3 219 100.5 217.5 102 216.1 103.5 214.8 105 213.5 106.5 212.1 107.8 210.7 109.3 209.3 110.9 208.1 112.5 206.9 114.2 205.9 115.9 204.8 117.5 203.6 119.1 202.4 M84.5 172.2L86.4 171.6 88.2 170.8 90 169.9 91.7 168.8 93.2 167.6 94.7 166.2 96.1 164.8 97.6 163.4 99.1 162.2 100.7 161 102.4 159.9 104.2 158.9 106 158.1 107.8 157.2 109.5 156.3 111.3 155.3 113 154.2 114.6 153.1 116.3 152 117.9 150.8 119.6 149.7 121.3 148.7 123 147.7 124.7 146.6 126.5 145.6 128.2 144.7 130.1 144 132 143.3 133.9 142.8 M55.7 250.3L55.3 252.3 55.2 254.3 55.2 256.3 55.5 258.2 56 260.2 56.8 262 57.5 263.9 58.3 265.7 59 267.6 59.7 269.5 60.5 271.3 61.1 273.2 61.7 275.1 62.1 277.1 62.4 279.1 62.8 281 63.2 283 63.7 284.9 63.9 286.9 M69.8 236.2L71.1 237.7 72.5 239.1 73.9 240.5 75.4 241.8 77 243 78.7 244.2 80.2 245.4 81.9 246.6 83.4 247.8 84.9 249.2 86.2 250.6 87.7 252 89.1 253.4 90.5 254.9 91.8 256.4 93 258 M76.4 259.5L74.4 259.3 72.5 259.3 70.5 259.4 68.5 259.7 66.5 260 64.6 260.7 62.8 261.6 61.2 262.8 59.7 264 58.1 265.3 56.6 266.6 55.1 267.9 53.6 269.2 52 270.5 50.5 271.8 49 273.1 47.5 274.4 46 275.7 44.4 276.9 42.8 278.1 41.1 279.2 39.4 280.3 37.7 281.3 36 282.4 M90.7 236.7L88.9 237.5 87 238.1 85 238.3 83 238.2 81 237.8 79.1 237.1 77.4 236.1 75.9 234.8 74.5 233.3 73.2 231.8 72 230.2 M94.8 261.1L93.4 262.5 92 264 90.7 265.5 89.5 267.1 88.3 268.7 86.9 270.2 85.4 271.5 83.9 272.7 82.4 274 80.9 275.4 79.4 276.8 78 278.2 76.6 279.6 75.2 281.1 73.7 282.4 72.1 283.5 70.4 284.6 68.7 285.7 M55.6 261.7L54.4 263.3 53.1 264.9 51.6 266.3 50.2 267.7 48.9 269.1 47.6 270.7 46.6 272.4 45.6 274.2 44.8 276 44.2 277.9 43.7 279.8 43.3 281.8 42.8 283.7 42.5 285.7 42.1 287.7 41.5 289.6 M78.7 239.6L77.2 241 75.8 242.4 74.4 243.9 73.1 245.4 71.8 246.9 70.5 248.4 69.1 249.8 67.6 251.2 66.2 252.6 65 254.2 M91.7 244.5L92.4 246.3 93.2 248.2 94 250 94.6 251.9 95.1 253.9 95.6 255.8 96.1 257.7 96.5 259.7 96.9 261.6 97.1 263.6 97.3 265.6 97.4 267.6 97.4 269.6 97.5 271.6 97.8 273.6 98.4 275.5 99.1 277.4 99.9 279.2 100.9 280.9 M85 240.3L83.1 241 81.2 241.6 79.3 242.2 77.4 242.9 75.6 243.8 73.9 244.8 72.2 245.8 70.5 246.9 68.9 248.1 67.3 249.3 65.8 250.6 64.3 252 62.9 253.4 61.7 254.9 60.6 256.7 59.9 258.5 59.3 260.4 58.7 262.3 58.1 264.3 57.8 266.2 57.5 268.2 57.2 270.2 M73.2 220L74.2 220.8 74.1 221.6 74.3 223.8 73.8 225 74.1 226.8 74.5 228.6 74.6 231.1 74.6 233 74.6 235.4 74.4 237.6 74.5 239 74 243 74.2 244.6 74.1 246.3 74.3 249 74.7 251.7 75.1 253.7 74.9 255.8 74.8 258.4 75.6 260.6 74.7 262.3 75.9 264.9 75.8 267.1 75.9 268.6 76.6 270.7 75.8 272.9 76.2 275.2 77.1 277.3 77 278.8 76.4 281.7 77.2 283.5 77.2 285.9 77.3 287.9 78.2 289.1 77.8 291.1 78.3 293.5 79.1 295.6 78.7 297.3 78.9 299.6 79.4 301.2 79.3 303.9 79.6 305.9 79.2 308.1 79.1 310.1 79.7 312.1 79.6 314 79.2 316.4 80 318 80 320 79.7 322.3 80.1 324.6 80.5 326 79.5 328 80.2 330.3 79.5 332.8 79.8 334.4 81.1 336.2 79.8 338.1 79.9 340.9 80.2 342.8 80.1 344.4 80.1 346.1 80.8 348.1 80.5 350.5 80.4 352.7 80.4 355 81.1 357.5 81 359.5 81.1 361.5 81.2 363.4 80.3 364.6 81.5 367 81.4 368.9 82.2 371.4 81.8 373.1 81.7 375.5 82.7 376.7 81.4 379.1 82.1 382 82.9 383.1 82.8 386 82.3 387.8 82.7 389.8 83.6 391.7 84.2 393.8 84.2 397.4 83.6 398.7 83.7 400.7 84.5 402.6 84.5 405.2 84.5 407.3 84.7 409.4 84.6 412.1 85.6 414.9 84.5 416.4 84.9 418.5 85.5 421.1 86 423.7 86 426.2 85.8 427.9 85.8 430.2 86.7 431.9 86.6 434 86.1 437.2 86.7 438.5 86.7 440.3 87.1 441.4 87.5 442.6 86.5 443.7 M75.7 296.7L77.6 296.3 80.8 295.6 83.1 295.6 85.8 294.5 86.7 293 86.9 290.3 86.5 288.2 M81.2 365L81.9 365.9 83 367.6 85.2 369 87.6 370.1 89.6 370.3 92.4 370.5 94.5 371 96.3 371.2 M59.6 240.8L61.3 241.2 62.4 240.8 63.6 240.8 65.2 241.6 67.8 241.5 69.8 242.3 71.6 242 74 242.3 76.6 242.2 78.5 243 81.3 243 84.2 243.2 86.7 242.7 88.9 243.4 90.3 243.6 92.9 244.3 95.1 244.4 97.5 243.9 99.8 244.8 101.9 245 104.1 245.2 106.3 244.5 107.9 245.1 110.7 245.6 112.1 245.4 113.9 245.7 116 245.6 118.4 245.7 120.2 245.3 122.4 245.7 124.5 245.5 126.9 246.1 129 245.7 131.1 245.9 133 245.9 134.8 245.4 137.3 245.1 139.6 244.2 142.2 243.6 144.4 244.1 147.3 243.2 148.3 243.4 150.9 243 153 242.2 155.4 242.2 156.9 241.8 158 241.8 159.1 241.4 163.6 241.1 163.6 240 M83.4 285.5L84.2 285.4 85.4 286 86.8 286.6 89 286.7 90.2 287.3 91.6 287.3 94.2 288.2 95.9 288.9 98.4 289.7 100.3 290 102.9 290.4 105.2 291.2 107.2 291.6 109.2 293 111.5 293 113.6 293.4 116.7 295 118.5 295.8 120.3 295.8 122.1 296.4 124.5 296.8 126.5 297 128.6 298.2 130.7 298.7 133 299.6 134.9 299.7 137.6 300.1 139.8 300.6 141.8 302.2 143.9 302.1 145.8 302.4 148.3 302.9 150.9 304.6 153.1 304.9 154.3 305.3 156.3 305.7 157.8 305.9 159.3 306.5 160.5 306.8 162.5 306.7 163.3 307.4 M82.3 291.7L83.5 292.6 84.8 293.6 85.4 294.9 87 296.9 87.8 297.6 89.7 300.1 91.7 300.8 92.4 302.6 94.5 305.2 96.4 306.4 98.6 308.4 101.2 310.1 101.7 311.6 102.7 312.4 105.2 313.5 106.1 315.1 108.1 317.2 110 318.4 110.9 320.1 113 321.4 115.1 322.3 116.6 324.5 118.1 325.2 119.4 327.1 121.8 328.5 123 329.2 124.6 331.1 125.3 332 126.7 332.3 127.9 333.4 130.2 336.4 132.2 337.9 135 340.3 136.1 341.6 136.9 343.1 137.8 344.3 139.1 345 M-0.6 252.2L1.5 251.2 3.2 249.7 4.1 250.3 6 249.8 7.8 248.4 10.2 247.8 13.1 246.7 16 246.1 17.5 245.2 19 244.3 21.4 243.6 23.2 244.1 26.1 243.4 28.1 242.9 30.2 243.1 32.6 242 35.5 242.2 37.6 241.7 39.2 241.4 41.4 241 43 239.1 45.8 238 46.9 236.4 48.9 235.7 51.2 235 52.3 233.6 54.3 232.2 54.9 231.6 M90.9 238.9L91.4 239.4 94.1 238.5 95.8 237.5 97.9 236.2 100.3 235.9 102.6 234.4 104.8 233.4 107 232.7 108.7 232.1 110.5 230.8 112.1 230.4 114.7 230.3 116.5 229.9 119.3 229.9 120.7 228.5 123.1 228.2 124.1 228.5 126.8 228 129.8 227.2 131.4 227.1 133.9 226.6 134.9 225.5 138.5 225.7 139.7 225 141.5 224.4 143.6 224.2 146.5 223.6 147.8 222.2 150.3 221.9 153 221.7 156 221.3 157.8 220.4 159.6 220.5 161.1 219.4 161.9 218.9 M30.7 130.1L31.1 131 32.7 133.1 32.9 133.6 34.6 135 35.1 137.2 37.5 138.7 38.9 139.8 39.6 142.4 41.5 144.4 42.9 146.2 44.3 147.8 45.3 149.3 46.5 151.5 47 152.8 48.3 154.9 49.1 156.9 50.1 158.4 50.7 160.5 51.5 162.4 52 164.4 52.8 166.8 53.4 167.9 54.4 170.7 55.2 173.2 55.4 174.3 56.6 176.5 57.1 178.5 57.5 180.1 59.2 182.6 59.4 185.5 60.5 187.5 61.1 189.8 62 191.7 62.4 194.1 63.6 195.2 64.4 197.2 63.4 199.6 64.5 200 65 202"/>
</g>
<g fill="none" stroke="#c4673a" style="stroke-width:var(--ow)" stroke-linecap="round" stroke-linejoin="round">
<path d="M72.1 154.1L72.1 152.6 72 151.1 71.9 149.6 71.9 148.1 71.7 146.6 71.6 145.1 71.6 143.6 71.7 142.1 71.8 140.6 72 139.1 72.2 137.6 72.5 136.2 72.9 134.7 73.5 133.3 73.8 131.9 74.1 130.4 74.6 129 75.2 127.6 75.9 126.3 76.5 124.9 77.3 123.6 78 122.3 78.8 121.1 79.5 119.7 80 118.3 80.2 116.8 80.2 115.3 80.1 113.8 80.1 112.3 80.1 110.8 80.1 109.3 80.3 107.8 80.5 106.4 80.8 104.9 80.9 103.4 80.9 101.9 80.8 100.4 80.8 98.9 80.8 97.4 80.8 95.9 80.6 94.4 80.3 92.9 80 91.5 79.7 90 79.2 88.6 79 87.1 79.1 85.6 79.3 84.1 79.7 82.6 80 81.2 80.3 79.7 80.5 78.2 80.6 76.7 80.4 75.2 80 73.8 79.2 72.5 78.4 71.3 77.6 70 76.8 68.7 75.9 67.5 74.9 66.4 74 65.2 73.1 64 72.4 62.7 71.7 61.3 71 60 70.4 58.6 69.7 57.3 69.1 55.9 M74 65.2L75 64 76.2 62.9 77.4 61.9 78.5 60.7 79.4 59.4 80.2 58 M72.4 62.7L71.8 61.2 71.2 59.7 70.6 58.2 69.9 56.8 69.2 55.3 68.6 53.9 68.3 52.3 67.8 50.8 67.2 49.3 66.7 47.8 66.4 46.2 66 44.6 M74.7 154L74.8 152.5 75 151 75.3 149.5 75.8 148.1 76.4 146.7 77 145.4 77.6 144 78.3 142.6 79.1 141.4 80.1 140.3 81.1 139.2 82.1 138.1 83 136.8 83.9 135.6 84.6 134.3 85.2 132.9 85.5 131.5 85.6 130 85.6 128.5 85.5 127 85.3 125.5 85.3 124 85.7 122.5 86.2 121.1 86.7 119.7 87.3 118.3 87.9 117 88.3 115.5 88.5 114 88.8 112.6 89.1 111.1 89.5 109.6 89.9 108.2 90.2 106.7 90.6 105.3 91.1 103.9 91.7 102.5 92.2 101.1 92.8 99.7 92.9 98.2 93 96.7 92.9 95.2 92.7 93.7 92.6 92.2 92.7 90.7 93 89.2 93.2 87.8 93.3 86.3 93.3 84.8 93.3 83.3 93.5 81.8 93.8 80.3 94.3 78.9 95 77.5 95.7 76.2 96.3 74.9 97.1 73.6 98 72.4 99 71.3 99.9 70.1 100.7 68.8 101.3 67.5 101.9 66.1 102.3 64.6 102.6 63.2 102.7 61.7 102.7 60.2 102.5 58.7 102.2 57.2 101.8 55.8 101.6 54.3 101.2 52.8 100.9 51.3 M93.5 81.8L94.4 80.4 95.3 79.1 96.3 77.9 M78.4 158.4L78.4 156.9 78.4 155.4 78.5 153.9 78.7 152.4 79 150.9 79.4 149.5 80 148.1 80.9 146.9 81.7 145.6 82.4 144.3 83 143 83.6 141.6 84.1 140.1 84.4 138.7 84.4 137.2 84.3 135.7 84 134.2 83.5 132.8 83 131.4 82.6 129.9 82.1 128.5 81.8 127 81.3 125.6 80.7 124.3 80.1 122.9 79.8 121.4 79.6 119.9 79.5 118.4 79.5 116.9 79.8 115.5 80.4 114.1 81.2 112.8 82 111.5 83 110.4 83.7 109.1 84.3 107.7 84.6 106.2 84.8 104.7 84.9 103.2 85.2 101.8 85.7 100.3 86.2 98.9 86.6 97.5 87 96 87.4 94.6 87.9 93.2 88.4 91.8 88.8 90.3 89.3 88.9 89.8 87.5 90.3 86.1 90.9 84.7 91.3 83.3 91.7 81.8 92 80.3 92.4 78.9 92.8 77.4 93.1 76 93.3 74.5 93.6 73 93.9 71.5 94.2 70.1 94.6 68.6 94.9 67.2 95.1 65.7 95.3 64.2 95.6 62.7 96 61.3 96.3 59.8 96.8 58.4 97.2 56.9 97.3 55.4 97.5 53.9 97.5 52.4 97.4 50.9 97.2 49.5 96.9 48 96.6 46.5 96.3 45 95.9 43.6 95.6 42.1 95.2 40.7 M88.8 90.3L88.1 88.9 87.4 87.5 86.8 86 85.9 84.6 85 83.3 84 82.1 82.7 81.1 81.2 80.5 79.6 80.3 78.1 80 76.5 79.8 75 79.3 M84.3 107.7L83 106.7 81.7 105.8 80.4 104.8 79.3 103.6 M80.7 124.3L79.8 122.9 79.1 121.5 78.3 120.1 77.6 118.7 76.5 117.4 75.6 116.2 74.8 114.7 74.5 113.2 74.4 111.6 74.6 110 75 108.5 M62.4 151.9L62.3 150.4 62.2 148.9 62 147.5 61.9 146 61.9 144.5 61.9 143 61.7 141.5 61.5 140 61.3 138.5 61.1 137 60.9 135.5 60.6 134.1 60.5 132.6 60.7 131.1 61 129.6 61.2 128.1 61.3 126.6 61.4 125.1 61.8 123.7 62.2 122.2 62.6 120.8 63.1 119.4 63.4 117.9 63.7 116.4 64 115 64.2 113.5 64.4 112 64.9 110.6 65.3 109.1 65.5 107.6 65.8 106.2 65.9 104.7 66 103.2 66 101.7 66.1 100.2 66.4 98.7 66.6 97.2 66.6 95.7 66.7 94.2 67 92.7 67.4 91.3 68.1 90 68.8 88.6 69.4 87.3 69.8 85.8 69.9 84.3 69.8 82.8 69.7 81.3 69.5 79.9 69.2 78.4 69 76.9 68.8 75.4 68.7 73.9 68.7 72.4 68.7 70.9 68.8 69.4 69 67.9 69 66.4 69 64.9 68.9 63.4 68.7 61.9 68.5 60.5 68.4 59 68.2 57.5 68.1 56 67.8 54.5 M69.7 81.3L70.2 79.8 70.3 78.2 70 76.6 69.4 75.2 68.7 73.7 67.8 72.4 66.7 71.2 M75.3 150.7L75.3 149.2 75.5 147.7 75.9 146.2 76.3 144.8 76.7 143.4 77 141.9 76.9 140.4 76.7 138.9 76.4 137.4 76 136 75.5 134.6 74.7 133.3 73.8 132.1 72.7 131 71.6 130.1 70.5 129 69.5 127.9 68.6 126.8 67.8 125.5 67 124.2 66.4 122.8 66 121.4 65.7 119.9 65.7 118.4 65.9 116.9 66.3 115.5 66.8 114.1 67.3 112.6 67.8 111.2 68.3 109.8 68.8 108.4 69.4 107.1 70.2 105.8 71.1 104.6 72.2 103.5 73.3 102.6 74.6 101.7 75.7 100.7 76.8 99.7 77.9 98.7 78.8 97.5 79.7 96.3 80.6 95.1 81.5 93.9 82.5 92.8 83.5 91.7 84.5 90.5 85.3 89.2 85.8 87.9 86.1 86.4 86.2 84.9 86.1 83.4 86 81.9 85.8 80.4 85.5 78.9 85 77.5 84.5 76.1 83.9 74.7 83.2 73.4 82.6 72 82 70.7 81.2 69.4 80.4 68.1 79.7 66.8 79.1 65.4 78.7 64 78.2 62.6 77.8 61.1 77.6 59.6 77.4 58.1 77.2 56.6 77 55.2 76.4 53.8 75.7 52.4 75 51.1 74.4 49.8 73.8 48.4 73.2 47 72.6 45.6 72 44.2 M78.2 62.6L77.5 61.1 76.9 59.6 76.2 58.2 M75.5 152.8L75.6 151.3 75.7 149.8 75.7 148.3 75.8 146.8 75.8 145.3 75.6 143.9 75.1 142.4 74.5 141.1 73.8 139.7 73.2 138.4 72.6 137 72.2 135.6 71.9 134.1 71.8 132.6 71.9 131.1 72 129.6 72.2 128.1 72.5 126.6 72.8 125.2 73 123.7 73 122.2 73 120.7 73 119.2 72.9 117.7 72.9 116.2 73.2 114.7 73.7 113.3 74.5 112 75.4 110.9 76.4 109.7 77.2 108.4 77.8 107.1 78.5 105.7 79.1 104.4 79.6 103 80.1 101.5 80.7 100.1 81.2 98.7 81.5 97.3 81.8 95.8 81.7 94.3 81.4 92.8 81.1 91.4 81 89.9 80.7 88.4 80.3 86.9 79.9 85.5 79.4 84.1 79 82.6 78.6 81.2 78.2 79.8 77.8 78.3 77.3 76.9 76.8 75.5 76.3 74.1 75.8 72.6 75.4 71.2 75.1 69.7 74.8 68.3 74.6 66.8 74.4 65.3 74.1 63.8 73.8 62.4 73.7 60.9 73.8 59.4 73.6 57.9 73.3 56.4 73 54.9 72.5 53.5 72.1 52.1 71.7 50.6 71.2 49.2 70.6 47.8 70.1 46.4 69.7 45 69.3 43.5 M74.8 68.3L74.1 66.8 73.3 65.5 72.1 64.3 71.1 63.2 70.2 61.8 M74.8 68.3L75.7 66.9 76.2 65.4 76.3 63.8 76.3 62.2 76.5 60.6 76.4 59 76.3 57.4 76 55.9 75.5 54.3 75.3 52.7 75.4 51.2 75.8 49.6 76.7 48.3 M71.4 155.6L71.2 154.1 70.9 152.6 70.4 151.2 69.8 149.9 69.1 148.5 68.5 147.2 67.9 145.8 67.7 144.3 67.5 142.8 67.4 141.3 67.5 139.8 67.6 138.3 67.6 136.8 67.5 135.3 67.4 133.8 67.3 132.3 67.1 130.8 66.9 129.3 66.8 127.9 66.6 126.4 66.4 124.9 65.9 123.5 65.3 122.1 64.5 120.8 63.6 119.6 62.7 118.4 61.8 117.2 60.9 116 60.1 114.7 59.5 113.4 58.9 112 58.5 110.5 58 109.1 57.4 107.8 56.8 106.4 56.2 105 55.6 103.6 55.1 102.2 54.5 100.8 54 99.4 53.7 98 53.4 96.5 53.2 95 53.1 93.5 53 92 53.1 90.5 53.3 89 53.4 87.5 53.5 86 53.5 84.5 53.3 83.1 53.1 81.6 53 80.1 52.7 78.6 52.4 77.1 52.1 75.7 51.8 74.2 51.5 72.7 51.1 71.3 50.6 69.9 50.2 68.4 M66.6 126.4L66.1 124.8 65.5 123.4 64.7 122 63.8 120.6 M52.4 77.1L52.8 75.6 52.8 74 52.5 72.4 51.9 70.9 51.4 69.4 51.1 67.8 51.1 66.2 M73 149.6L72.7 148.2 72.5 146.7 72.4 145.2 72.5 143.7 72.6 142.2 72.8 140.7 72.9 139.2 72.9 137.7 73 136.2 73.2 134.7 73.4 133.3 73.6 131.8 73.9 130.3 74.1 128.8 74.3 127.3 74.5 125.8 74.4 124.3 74.3 122.8 74 121.4 73.7 119.9 73.2 118.5 72.7 117 72.2 115.6 71.9 114.2 71.8 112.7 71.9 111.2 72.2 109.7 72.7 108.3 73.3 106.9 74 105.6 74.8 104.3 75.7 103.1 76.8 102.1 77.9 101.1 78.9 100 79.7 98.7 80 97.2 80 95.7 80 94.2 80.1 92.7 80.1 91.2 80.2 89.7 80.4 88.2 80.7 86.7 80.9 85.2 81 83.8 81.2 82.3 81.5 80.8 81.8 79.3 82 77.8 82.2 76.4 82.4 74.9 82.5 73.4 82.7 71.9 82.9 70.4 82.9 68.9 82.7 67.4 82.4 65.9 82.1 64.5 81.5 63.1 80.9 61.7 M74.3 127.3L73.7 125.9 73.1 124.4 72.5 122.9 72.1 121.3 71.8 119.8 71.3 118.2 M78.1 153.7L78 152.2 78 150.7 77.9 149.2 77.7 147.7 77.6 146.2 77.7 144.7 77.8 143.2 78.1 141.8 78.2 140.3 78.3 138.8 78.3 137.3 78.5 135.8 78.9 134.3 79.4 132.9 80 131.6 80.7 130.3 81.5 128.9 82.1 127.6 82.9 126.3 83.7 125 84.3 123.7 84.9 122.3 85.2 120.8 85.4 119.3 85.5 117.8 85.6 116.3 85.3 114.9 84.8 113.5 83.9 112.2 83 111.1 82 109.9 80.9 108.8 79.8 107.8 78.8 106.7 77.9 105.5 77.1 104.3 76.4 102.9 75.7 101.6 75 100.3 74.3 99 73.9 97.5 73.7 96 73.3 94.6 72.9 93.1 72.4 91.7 71.8 90.4 71.2 89 70.5 87.6 70 86.2 69.6 84.8 69.4 83.3 69.2 81.8 69.1 80.3 68.9 78.8 M71.2 89L71.8 87.5 72.4 86 73.1 84.6 73.8 83.1 74.4 81.7 74.4 80.1 74.3 78.5 M73.9 97.5L73.1 96.1 72.1 94.9 70.8 93.9 69.3 93.4 67.7 93.3 66.1 93.6 64.6 94.1 M70 86.2L70.6 84.7 71.1 83.2 71.8 81.8 72.5 80.3 73.3 79 74.4 77.8 75.5 76.7 76.6 75.5 77.8 74.4 79.2 73.6 M72.8 151.7L73 150.2 72.9 148.7 72.8 147.2 72.7 145.7 72.6 144.2 72.4 142.7 72.3 141.2 72.2 139.7 72.3 138.2 72.6 136.8 72.9 135.3 73.4 133.9 73.9 132.5 74.4 131.1 74.8 129.6 75.2 128.2 75.7 126.8 76.3 125.4 76.9 124 77.4 122.6 77.6 121.1 77.8 119.6 78 118.1 78.3 116.7 78.7 115.2 79 113.7 79.5 112.3 80.1 110.9 80.5 109.5 81 108.1 81.5 106.7 81.9 105.2 82.3 103.8 82.5 102.3 82.7 100.8 83 99.3 83.1 97.8 83.2 96.3 83.3 94.8 83.3 93.3 83.3 91.8 83.4 90.3 83.3 88.8 83.4 87.3 83.6 85.9 83.8 84.4 84.1 82.9 84.3 81.4 84.7 80 85.2 78.5 85.8 77.2 86.3 75.8 86.9 74.4 87.7 73.1 88.4 71.8 88.8 70.3 89.2 68.9 89.6 67.4 89.8 66 90.2 64.5 90.6 63.1 90.9 61.6 91.2 60.1 91.3 58.6 91.4 57.1 91.4 55.6 91.4 54.1 91.6 52.6 91.8 51.2 91.9 49.7 91.8 48.2 91.7 46.7 91.6 45.2 M91.4 57.1L90.5 55.8 89.3 54.8 88 53.8 86.8 52.7 85.8 51.5 84.5 50.5 M81 108.1L81.7 106.7 82.6 105.3 83.8 104.2 85.2 103.6 86.7 103 88.3 102.7 89.9 102.3 91.3 101.7 92.8 101 94.3 100.6 95.9 100.4 97.5 100.6 99 101.2 M67.6 152.3L67.6 150.8 67.6 149.3 67.7 147.8 67.8 146.3 67.6 144.8 67.5 143.3 67.3 141.8 67.2 140.3 67 138.8 66.9 137.3 66.7 135.9 66.4 134.4 66 133 65.4 131.6 64.8 130.2 63.9 129 63.1 127.7 62.3 126.5 61.4 125.2 60.6 124 59.7 122.8 59.1 121.4 58.7 120 58.2 118.5 57.8 117.1 57.5 115.6 57 114.2 56.4 112.8 55.8 111.4 55.2 110.1 54.5 108.7 54 107.4 53.6 105.9 53.4 104.4 53.4 102.9 53.5 101.4 53.5 99.9 53.6 98.4 53.6 96.9 53.5 95.4 53.3 93.9 52.8 92.5 52.3 91.1 51.7 89.7 51 88.4 50.4 87 49.8 85.7 49.5 84.2 49 82.8 48.5 81.4 47.8 80 47.1 78.7 46.7 77.3 46.2 75.8 45.8 74.4 45.3 73 45 71.5 44.7 70.1 44.2 68.6 43.7 67.2 43.3 65.8 42.9 64.3 42.5 62.9 42.2 61.4 41.8 59.9 M57.8 117.1L58.7 115.7 59.7 114.4 60.6 113.1 61.5 111.8 62.5 110.6 63.5 109.4 64.8 108.4 66.4 107.9 67.9 107.7 69.5 107.3 71 107 72.6 106.9 M58.7 120L57.9 118.5 57.1 117.2 56 116 54.6 115.2 53.3 114.3 52.3 113.1 M70.6 144.2L70.5 142.7 70.3 141.2 70 139.7 69.7 138.3 69.3 136.8 69.1 135.3 69.2 133.8 69.5 132.4 69.9 130.9 70.5 129.5 71.3 128.2 72.1 127 72.8 125.7 73.4 124.3 73.9 122.9 74.4 121.5 74.8 120 75.3 118.6 75.7 117.2 76.1 115.7 76.4 114.3 76.8 112.8 77 111.3 77.4 109.9 77.9 108.4 78.3 107 78.7 105.5 79 104.1 79.3 102.6 79.5 101.1 79.6 99.6 79.6 98.1 79.5 96.6 79.4 95.1 79.4 93.6 79.4 92.1 79.5 90.6 79.5 89.1 79.6 87.6 79.7 86.2 79.7 84.7 79.5 83.2 79.1 81.7 78.6 80.3 78 78.9 77.4 77.5 76.8 76.2 76.1 74.9 75.2 73.6 74.5 72.3 73.6 71.1 72.8 69.9 72 68.6 71.2 67.3 70.5 66 69.8 64.7 69 63.4 68.3 62.1 67.6 60.8 66.9 59.4 66.4 58 65.9 56.6 65.2 55.3 64.4 54 63.5 52.7 62.8 51.4 62.1 50.1 61.3 48.9 60.4 47.7 59.4 46.6 58.3 45.5 57.4 44.3 56.6 43 55.9 41.7 55.4 40.3 55 38.8 54.6 37.4 54.2 35.9 54 34.5 53.7 33 53.2 31.6 52.6 30.2 52 28.8 M79.5 90.6L78.6 89.3 78.1 87.8 77.5 86.3 77.1 84.7 M72 160.8L71.8 159.3 71.6 157.8 71.3 156.3 71.2 154.8 71.1 153.3 71.1 151.8 71.2 150.3 71.5 148.9 72.1 147.5 72.8 146.2 73.5 144.8 74.2 143.5 75.2 142.3 76.2 141.2 77.2 140.1 78.2 139 79 137.7 79.8 136.5 80.4 135.1 81 133.7 81.5 132.3 81.9 130.9 82.1 129.4 82.2 127.9 82.1 126.4 82.4 124.9 82.7 123.4 83.1 122 83.8 120.6 84.5 119.3 85.2 118 85.7 116.6 85.9 115.1 86.1 113.6 86.1 112.1 86.2 110.6 86.5 109.1 86.9 107.7 87.6 106.4 88.5 105.2 89.4 103.9 90.2 102.7 91.2 101.6 92.2 100.4 93.1 99.2 94.1 98.1 95.2 97.1 96.2 96 97.2 94.8 98.1 93.6 98.9 92.4 99.5 91 99.8 89.5 99.8 88 99.5 86.6 99.1 85.1 98.5 83.8 98 82.4 97.5 80.9 97.2 79.5 97.1 78 97 76.5 96.9 75 96.7 73.5 96.5 72 96 70.6 95.6 69.1 95.1 67.7 94.6 66.3 93.9 65 93.4 63.6 92.9 62.1 92.5 60.7 92.3 59.2 M86.9 107.7L87.9 106.5 89.1 105.3 90.3 104.4 91.5 103.2 92.6 102.1 93.6 100.8 94.7 99.7 95.7 98.5 96.7 97.2 M93.9 65L92.9 63.7 91.8 62.5 90.7 61.4 89.7 60.2 89 58.8 88.5 57.2 M77.4 157L77.6 155.5 77.7 154 77.7 152.5 77.6 151 77.6 149.5 77.3 148 76.8 146.6 76.4 145.2 76.1 143.7 75.9 142.2 75.3 140.8 74.6 139.5 73.8 138.2 73 137 72.1 135.8 71.3 134.5 70.7 133.1 70.1 131.7 69.7 130.3 69.1 128.9 68.4 127.6 67.7 126.3 66.9 125 66.1 123.7 65.3 122.4 64.6 121.1 64 119.7 63.5 118.3 63.2 116.9 62.8 115.4 62.4 114 61.8 112.6 61.2 111.2 60.4 109.9 59.6 108.7 58.7 107.5 57.8 106.2 56.9 105 56 103.9 55 102.7 53.9 101.7 52.8 100.7 51.8 99.6 50.9 98.4 49.9 97.2 49.2 95.9 48.5 94.6 47.8 93.3 47 92 46.5 90.6 46.1 89.2 45.6 87.7 45.2 86.3 44.4 85 43.5 83.8 42.4 82.8 41.3 81.8 40.1 80.8 39.1 79.7 38.2 78.6 37.6 77.2 37.2 75.7 36.9 74.2 36.9 72.7 37 71.2 37.3 69.8 37.6 68.3 38 66.9 38.4 65.4 38.8 64 39.3 62.6 M62.4 114L63.4 112.7 64.6 111.7 65.9 110.7 M61.8 112.6L62.5 111.1 62.9 109.6 63.1 108 62.8 106.4 M68.9 154.4L68.8 152.9 68.5 151.5 68 150.1 67.4 148.7 66.7 147.3 66 146 65.2 144.8 64.3 143.6 63.3 142.4 62.5 141.2 61.8 139.9 61.3 138.4 61 137 60.6 135.5 60.2 134.1 59.7 132.7 59 131.3 58.4 130 57.7 128.6 56.9 127.3 56.1 126.1 55 125 54 124 53 122.8 52.2 121.5 51.5 120.2 50.5 119.1 49.5 118 48.6 116.8 47.8 115.5 47.2 114.1 46.9 112.7 47 111.2 47.1 109.7 47.4 108.2 47.9 106.8 48.2 105.3 48.4 103.8 48.4 102.3 48.2 100.8 47.9 99.4 47.6 97.9 47 96.5 46.3 95.2 45.8 93.8 45.4 92.3 45.1 90.9 44.8 89.4 44.9 87.9 45.3 86.4 45.9 85.1 46.6 83.7 47.2 82.3 47.9 81 48.6 79.7 49.4 78.4 50 77.1 50.5 75.7 51 74.2 51.3 72.8 M47.1 109.7L48.3 108.6 49.6 107.7 51.1 107.1 52.6 106.6 54.2 106.5 55.8 106.9 57.1 107.8 58.5 108.6 M68.6 152L68.6 150.5 68.4 149 68.2 147.5 67.9 146 67.6 144.6 67.4 143.1 67.4 141.6 67.8 140.1 68.2 138.7 68.8 137.3 69.5 136 70.3 134.7 71.1 133.5 72.1 132.3 73 131.1 74 130 74.9 128.8 75.7 127.5 76.4 126.2 77.1 124.9 77.7 123.5 78.3 122.1 78.7 120.7 78.9 119.2 78.8 117.7 78.8 116.2 78.8 114.7 78.9 113.2 79.2 111.7 79.3 110.2 79.4 108.7 79.5 107.2 79.5 105.7 79.5 104.2 79.5 102.7 79.6 101.2 79.8 99.7 80 98.3 80.3 96.8 80.7 95.3 81.2 93.9 81.8 92.5 82.4 91.2 83 89.8 83.6 88.5 84.5 87.2 85.4 86 86.4 84.9 87.3 83.7 88.2 82.5 89.1 81.3 89.8 79.9 90.4 78.6 91 77.2 91.5 75.8 92 74.4 92.3 72.9 92.5 71.4 92.5 69.9 92.4 68.4 92.4 66.9 92.3 65.4 92.2 63.9 92.2 62.4 M84.5 87.2L85.5 86 86.6 84.8 87.6 83.6 88.8 82.5 89.8 81.2 90.6 79.8 91.2 78.4 91.9 76.9 M71.6 141.2L71.8 139.7 72.1 138.2 72.4 136.7 73 135.3 73.5 133.9 74 132.5 74.7 131.2 75.5 129.9 76.4 128.7 77.4 127.6 78.5 126.6 79.6 125.6 80.7 124.6 81.7 123.5 82.7 122.3 83.6 121.1 84.6 120 85.5 118.8 86.3 117.5 87 116.2 87.6 114.8 88 113.4 88.3 111.9 88.5 110.4 88.6 108.9 88.8 107.4 89 105.9 89.3 104.5 89.6 103 89.9 101.5 90.1 100 90.5 98.6 91.1 97.2 91.7 95.8 92.3 94.4 92.9 93.1 93.7 91.8 94.5 90.5 95.3 89.3 96 87.9 96.7 86.6 97.3 85.2 97.9 83.9 98.6 82.5 99.1 81.1 99.5 79.7 99.8 78.2 99.8 76.7 99.8 75.2 99.8 73.7 99.9 72.2 99.9 70.7 99.9 69.2 99.8 67.7 99.6 66.2 99.3 64.8 98.9 63.3 98.6 61.8 98.3 60.4 97.9 58.9 97.4 57.5 96.9 56.1 96.6 54.6 96.5 53.1 96.4 51.6 96.4 50.1 M85.5 118.8L86.4 117.5 87.1 116 87.8 114.6 88.2 113 88.3 111.4 88 109.9 87.5 108.3 86.9 106.8 86.3 105.4 85.8 103.8 85.1 102.4 84.1 101.2 M77.3 153.5L77.1 152 76.7 150.5 76.2 149.1 75.7 147.7 75 146.4 74.5 145 74.2 143.5 74.1 142 73.9 140.5 73.8 139 73.7 137.5 73.9 136 74.1 134.6 74.5 133.1 74.9 131.7 75.3 130.2 75.7 128.8 76 127.3 76.2 125.8 76.5 124.3 76.7 122.9 76.9 121.4 77.2 119.9 77.6 118.5 78.1 117 78.7 115.6 79.3 114.3 80 113 80.7 111.6 81.2 110.2 81.7 108.8 82.1 107.4 82.4 105.9 82.8 104.4 83.1 103 83.4 101.5 83.6 100 83.8 98.5 84 97.1 84.4 95.6 84.7 94.1 85 92.7 85.2 91.2 85.1 89.7 85 88.2 84.9 86.7 84.8 85.2 84.6 83.7 84.6 82.2 84.4 80.7 84.3 79.2 84.4 77.7 84.3 76.2 84.2 74.7 84 73.2 83.8 71.7 83.5 70.3 83.1 68.8 82.7 67.4 82.1 66 81.3 64.7 80.6 63.4 79.9 62 79.2 60.8 78.4 59.5 77.5 58.3 76.6 57.1 75.8 55.8 75.2 54.4 74.8 53 74.5 51.5 74.2 50 73.7 48.6 73 47.3 72.3 46 71.4 44.8 70.5 43.5 69.8 42.3 M85.2 91.2L86.3 90.1 87.4 88.9 88.6 87.8 89.7 86.6 90.8 85.5 92 84.5 93.2 83.3 94 82 94.8 80.6 M72.3 157.3L72.1 155.8 72 154.3 71.9 152.8 71.5 151.4 70.9 150 70.2 148.7 69.4 147.4 68.5 146.2 67.5 145.1 66.6 143.9 65.8 142.6 65.3 141.2 64.9 139.8 64.5 138.3 63.9 136.9 63.3 135.6 62.7 134.2 62 132.8 61.6 131.4 61.4 129.9 61.1 128.5 61 127 61.1 125.5 61.3 124 61.5 122.5 61.4 121 61.1 119.5 60.8 118.1 60.4 116.6 59.8 115.2 59.2 113.9 58.5 112.5 58 111.1 57.6 109.6 57.5 108.2 57.5 106.7 57.5 105.2 57.6 103.7 57.6 102.2 57.8 100.7 57.9 99.2 58.1 97.7 58.4 96.2 58.9 94.8 59.4 93.4 60 92 60.5 90.6 60.9 89.1 61.1 87.7 61.2 86.2 61.2 84.7 61.4 83.2 61.8 81.7 62.4 80.4 63 79 63.4 77.5 63.7 76.1 63.9 74.6 64 73.1 64.1 71.6 64.2 70.1 64.3 68.6 64.2 67.1 64.1 65.6 63.8 64.1 63.6 62.6 63.5 61.2 63.4 59.7 63.4 58.2 63.2 56.7 62.8 55.2 62.1 53.9 61.4 52.6 60.6 51.3 59.9 50 59.1 48.7 58.3 47.4 57.7 46 57.4 44.6 M57.8 100.7L56.8 99.4 55.6 98.3 54.3 97.4 52.9 96.6 51.8 95.5 50.8 94.2 50 92.8 49.3 91.4 48.7 89.9 48.4 88.3 48.5 86.7 48.9 85.2 49.3 83.6 M63.2 56.7L63.6 55.1 64 53.6 63.9 52 63.4 50.4 M70.4 138.7L70.3 137.2 70.5 135.7 70.7 134.2 71.1 132.8 71.6 131.3 72.2 130 72.9 128.7 73.9 127.5 74.9 126.4 75.9 125.3 76.8 124.1 77.8 123 78.7 121.7 79.6 120.6 80.5 119.3 81.3 118.1 82 116.8 82.6 115.4 83 114 83.6 112.6 84.1 111.1 84.4 109.7 84.6 108.2 84.5 106.7 84.5 105.2 84.3 103.7 84.1 102.2 83.9 100.7 83.8 99.2 83.9 97.7 84.2 96.3 84.5 94.8 84.8 93.3 85.1 91.9 85.3 90.4 85.4 88.9 85.5 87.4 85.6 85.9 85.8 84.4 86 82.9 86.3 81.4 86.6 80 86.8 78.5 87 77 87.1 75.5 87.2 74 87.4 72.5 87.6 71 87.8 69.5 88 68 88.2 66.6 88.5 65.1 88.9 63.6 89.3 62.2 89.8 60.8 90.7 59.6 M83.6 112.6L84.2 111.1 85 109.7 86.1 108.5 87.3 107.4 88.7 106.7 90.3 106.8 91.8 107.4 93.1 108.3 94.2 109.4 94.9 110.9 95.1 112.5 95.2 114.1 M72.6 133.8L72.7 132.3 72.7 130.8 73 129.3 73.3 127.9 73.6 126.4 73.9 124.9 74.1 123.4 74.3 121.9 74.3 120.4 74.1 118.9 74 117.5 73.8 116 73.4 114.5 73 113.1 72.5 111.7 71.9 110.3 71.4 108.9 70.9 107.5 70.4 106.1 69.8 104.7 69.2 103.3 68.7 101.9 68.1 100.5 67.7 99.1 67.1 97.7 66.6 96.3 66 94.9 65.5 93.5 65.1 92 64.8 90.6 64.5 89.1 64.3 87.6 64.3 86.1 64.4 84.6 64.6 83.1 64.8 81.6 65 80.2 65.3 78.7 65.7 77.3 66 75.8 66.3 74.3 66.7 72.8 67.1 71.4 67.7 70.1 68.2 68.6 68.5 67.1 68.8 65.7 68.9 64.2 69.1 62.7 69.5 61.3 70.1 59.9 70.8 58.5 71.5 57.2 72.1 55.9 72.6 54.4 72.9 53 73.2 51.5 73.4 50 73.6 48.5 73.8 47 M69.5 61.3L69.2 59.7 68.9 58.1 68.4 56.6 68.1 55 67.5 53.5 66.7 52.1 65.8 50.8 64.7 49.7 63.4 48.7 62.2 47.7 61 46.6 59.9 45.5 M70.8 58.5L71.5 57.1 72.5 55.8 73.5 54.6 74.6 53.5 M75.5 145.6L75.4 144.2 75.2 142.7 74.9 141.2 74.4 139.8 73.7 138.5 73.2 137 72.9 135.6 72.9 134.1 73.1 132.6 73.1 131.1 73.3 129.6 73.4 128.1 73.4 126.6 72.9 125.2 72.1 123.9 71.2 122.7 70.3 121.5 69.4 120.3 68.5 119.1 67.8 117.8 67.3 116.4 66.8 114.9 66.6 113.5 66.4 112 66.4 110.5 66.5 109 66.6 107.5 66.8 106 67 104.5 67.3 103 67.4 101.5 67.4 100 67.4 98.5 67.5 97 67.6 95.5 68 94.1 68.7 92.7 69.5 91.5 70.3 90.2 71.1 89 71.9 87.7 72.7 86.4 73.4 85.1 73.8 83.6 74 82.2 74.1 80.7 74.1 79.2 74 77.7 74 76.2 74 74.7 74 73.2 74.1 71.7 74.3 70.2 74.6 68.7 75 67.3 75.6 65.9 76.2 64.5 76.9 63.2 77.5 61.8 77.9 60.4 78 58.9 77.8 57.4 77.4 55.9 77.3 54.4 77 53 M67.5 97L67.7 95.4 67.6 93.8 67.1 92.3 66.2 91 M76.2 64.5L76.6 63 76.8 61.4 76.8 59.8 76.5 58.2 75.9 56.7 75.3 55.2 74.7 53.8 74.3 52.2 73.9 50.7 73.6 49.1 M71.2 122.7L71.7 121.2 72.2 119.7 72.8 118.2 73.8 116.9 74.9 115.8 76.3 114.9 77.8 114.4 79.4 114.3 81 114.3 82.6 114.2 84.2 113.9 85.7 113.4 87.1 112.7 M57.6 91.8L57.1 90.7 55.2 88.9 53.9 86.9 52.4 84.4 50.7 82.3 49.7 80.9 47.5 78.8 46.3 77.8 44 77.2 42 76.3 41 75.2 38.3 74.5 37.1 74.4 35.1 74.4 32.7 74.7 30.6 75.3 28.7 76.2 26.1 76.2 23.8 77 21.3 78.1 19.9 79.3 17.6 79 15.6 80.4 13.6 81.3 11.9 81.8 9.4 82.7 7.5 82.9 4.9 83.9 2.4 85.3 0.8 85 M0.8 114.4L0.6 115.6 1.4 118 1.9 121 3.3 123.2 3.4 124.9 5.7 127.2 7.1 128 9.1 129.8 10 130.4 M13.3 134.2L14.9 133.8 17.1 132.7 19.2 132.7 21.6 132.2 24.1 131.8 26.1 131.3 28.5 129.9 30.7 129.3 32.7 128.5 35.4 128.3 37.1 127.5 39.5 125.8 41.2 125.3 43.5 124.3 46.3 123.6 47.6 121.6 49.6 120.4 51.3 118.5 53.3 117.6 55.6 116.4 56.7 114.8 57.5 112.7 58.9 110.5 60.1 108.1 61.3 107.8 M-0.2 154.7L1.1 154.4 2.7 153.2 4.4 152.3 6.2 150.5 8 149.2 10.5 148.7 13 148 14.9 145.8 16.9 145.6 18.3 144.5 20.8 145 23.7 143.5 25.2 143.4 27.5 143.1 29 142.5 31.9 142.6 33.7 142.4 35.4 142.2 37.4 142.3 40 141.6 41.9 142 43.6 141.5 46.4 141.6 48.5 140.5 50.2 140.3 52.5 140 54.8 139.1 56.8 138.8 59 138.3 61.2 137.1 61.8 136.4 M88.8 88.8L89.1 88.5 91.5 88.4 93.2 87.6 95.3 86.8 97.8 86.4 100.3 86.2 102 86.2 104.6 87 106.4 85.7 108.4 87.1 110.6 86.3 112.4 88.1 114.5 87 116.4 88.3 118.1 88 119.5 89.7 121.2 91.5 123.6 93 124.7 94.2 126.8 94.7 128.3 94.7 131.2 95.4 132.8 94.6 134.9 93.9 137.8 93.6 140 92.9 142.3 91.9 144.5 91.2 146.4 91.7 148.8 90.8 151.3 90.9 152.5 91.2 155.6 90.6 157.9 91.1 159.7 90.7 161.6 91.2 162.5 90.7 M89.5 92L90.5 91.6 92.5 91.2 94.5 90.2 96.9 89.7 99.5 89.9 102.4 89.2 104.1 89.3 106.2 88.9 108.1 88.2 110.5 89.7 112.5 89.6 114.8 89 117.7 88.9 119.1 89.9 121.2 90.1 124.4 90.1 125.9 91.9 127.4 92.1 129.5 93.4 131.6 93.6 132.9 95.3 135.2 95.5 137.4 96.3 139.1 95.8 141.8 96.6 144.2 97 146.2 96.8 149.1 96.8 150.4 96.6 153.4 97.5 156.1 95.9 158.1 95.6 160.5 95.4 161.9 94.6 163.7 94 M99.5 117.2L100.4 116.7 103.1 116.1 104 115.4 106.5 114.9 109.3 113.8 111.7 112.7 113.8 112.5 116.2 112.1 118.4 111.6 119.9 110 122.3 108.8 124.4 108.3 126.3 107.6 128.5 107.1 130.3 106.2 132 104.8 134.1 104.3 136.5 102.8 138.6 102 140.1 101.3 142.6 100 145 99.5 146.6 97.7 148.1 97 150.3 96.6 152.5 96 155.1 97.1 158 97.4 160.5 98.4 161.4 99 163 99.4 M125.7 93.7L126.9 95.4 128.6 97.5 130.2 100.1 132.3 100.7 133.1 103.9 135.7 105.6 137.5 107.2 M87.1 148.4L87.7 148.6 90 149.7 91 151.3 93 152.5 94.3 153.7 96.8 154.5 98.9 155.6 100.7 157.1 102.3 158.9 104 159.9 106.7 160.3 108.3 162.2 110.1 162.7 112.5 163.8 114.6 164.2 116.7 165.4 117.8 165.4 120.2 166.6 121.6 167.6 124.2 168.1 125.5 168 127.6 168.8 130.6 169.6 132.7 169.1 134.3 169.6 136.2 170.3 138.3 169.7 140.2 170.4 142.7 170.3 144.9 171.2 147.5 170.5 148.8 170.5 150.5 170.8 152.8 169.7 154.8 168.4 156.6 166.7 158.9 166.1 160.3 165.2 161.9 163.1 163.1 162.9 M148.2 168.8L149.6 166.9 151.5 165.4 153.3 163.4 154.7 161.7 156.7 159.7 158.1 157.9 160 156.2 161.4 154.1 162.6 151.5 164 151.1 M56 151L53.9 151 52 151.4 50.3 151.6 47.8 151.9 45 152.2 43 152.7 41 153.2 37.8 153.2 35.5 153.6 32.9 153.8 30.7 155.1 29 155.6 M87 222.2L87.4 222.7 88.3 223.5 90.6 224.1 91.4 226.5 94.1 228 95.4 228.4 98 230.1 98.3 231.6 100.7 233.2 101.2 234.7 102.9 237 104.7 237.6 106.7 239.3 108.5 240.9 109.7 243 110.9 244.1 112.6 245.9 113 248 114.7 249.2 115.7 252.6 117.1 254.3 118.2 256.3 118.1 257.6 118.9 258.9 118.7 262.4 117.6 263.5 115.4 264.3 115.2 266.5 114.1 269.5 114.1 270.6 114.1 272.8 113.8 274.6 114 277.2 114.3 278.6 114.3 281.1 114.5 283.7 114.4 286.1 113.7 288.4 113.7 290.5 113.1 292.4 111.6 293.7 111.1 296.9 110 298.2 108.4 300.3 106.2 302 104.5 304.2 104.3 305.8 101.7 307.6 101.2 308.6 100.1 310.2 98.9 311 M120.7 261.3L120.8 260.3 122.6 259.4 123.1 258.1 124.7 256.6 126.1 253.6 128.4 252.8 130.3 251 132.3 249 134.4 248.8 136.9 248.3 138.5 247.4 140.3 247.1 142.9 245.7 146.5 245 148.2 244.6 150.1 243.7 152.8 244 155.2 242.6 157.3 242.2 158.4 241.6 160.4 240.8 161 241.2 163.8 240.6 162.2 242.2 M0.6 215.3L2.9 216.2 4.2 216.9 6.5 217.3 8.5 218.3 10.3 218.7 13.4 219.3 16.1 219.9 17.8 220.6 19.9 221.4 22 222.6 23.7 222.4 26.1 223.6 27.9 224.6 29.9 224.8 31.5 226.2 33.3 227.4 35.8 228.7 37.3 229.4 39.4 230.9 41.2 232.7 43.4 234.2 45 235.6 45.4 236.4 48.7 238.3 50.1 238.9 51.7 240.9 52.9 241.1 M-0.6 204.5L1.4 205.4 5 205.1 6.7 205.8 8.9 205.4 11.4 206.6 13.9 207 16.5 208.4 18.6 209.2 19.9 210.1 22.1 211.7 23 211.3 M67.7 178.3L68.2 179.4 68.9 180.7 69.6 182.9 70.4 184.9 70.9 187 71.8 189 73.1 191.2 73.9 192.8 75.3 194.6 75.7 196.9 77.1 199.3 78.3 200.3 77.9 203.2 80.8 204.9 81.7 207.3 82.3 209.3 83.6 211.2 84.9 212.5 86.2 214.5 87 216 87.8 218.8 89 220.9 90.1 222.2 90.3 224.7 91.7 226 91.5 227.1 M47.8 182.8L47 184.6 46.1 186.4 45.2 188.2 44.2 190 43.3 191.7 42.3 193.5 41.4 195.3 40.6 197.1 39.9 199 39.2 200.8 38.5 202.7 37.8 204.6 37.2 206.5 36.5 208.4 35.8 210.2 35 212.1 34.3 214 33.7 215.9 33 217.7 32.3 219.6 31.5 221.5 30.7 223.3 29.8 225.1 28.8 226.8 27.7 228.4 26.4 230 25.1 231.5 23.8 233 22.4 234.5 20.9 235.8 19.4 237.1 17.7 238.2 16 239.2 14.2 240.1 12.4 240.9 10.5 241.5 8.5 241.9 6.5 242.1 4.5 242.2 2.5 242.1 0.5 241.9 -1.5 241.6 -3.4 241.2 -5.4 241 -7.4 240.7 -9.4 240.4 -11.4 240.2 -13.3 240 -15.3 239.8 -17.3 239.7 -19.3 239.7 -21.3 239.8 -23.3 239.8 -25.3 239.9 -27.3 240 -29.3 240 -31.3 240 -33.3 239.9 -35.3 239.6 -37.3 239.2 -39.2 238.8 -41.2 238.4 -43.1 237.9 -45.1 237.5 -47 237.1 -49 236.7 -51 236.3 -52.9 236 -54.9 235.8 -56.9 235.7 -58.9 235.8 -60.9 236.1 -62.8 236.5 -64.8 237.1 -66.7 237.7 -68.5 238.4 -70.4 239.1 -72.2 240 M-49 236.7L-49.4 238.6 -49.8 240.6 -50.3 242.5 M33 217.7L33.3 219.7 33.5 221.7 33.7 223.7 33.7 225.7 33.7 227.7 33.7 229.7 34 231.7 34.4 233.6 34.7 235.6 M45 191.9L44 193.6 42.9 195.4 41.9 197.1 41 198.8 40 200.6 39 202.3 37.9 204 36.8 205.7 35.7 207.4 34.6 209 33.5 210.7 32.4 212.3 31.2 214 30.1 215.6 28.8 217.1 27.4 218.6 26.1 220.1 24.9 221.7 23.9 223.5 23 225.2 22 227 21 228.7 20.1 230.5 19.1 232.2 18.2 234 17.4 235.8 16.7 237.7 16.2 239.6 15.7 241.6 15.3 243.5 15 245.5 14.7 247.5 14.3 249.5 14 251.4 13.7 253.4 13.4 255.4 13.3 257.4 13.4 259.4 13.6 261.4 13.9 263.4 14.3 265.3 14.8 267.3 15.2 269.2 15.4 271.2 15.6 273.2 15.6 275.2 15.7 277.2 15.8 279.2 15.8 281.2 15.7 283.2 15.5 285.2 15.3 287.2 15 289.1 14.6 291.1 14.1 293 13.5 295 13 296.9 12.3 298.8 11.7 300.7 11 302.5 10.2 304.4 9.3 306.2 8.4 308 7.5 309.7 6.4 311.4 5.2 313 3.9 314.5 2.6 316.1 1.4 317.7 0.2 319.2 -1.1 320.8 -2.3 322.4 -3.5 324 -4.7 325.6 -5.8 327.2 -7 328.9 -8 330.6 M13.3 257.4L11.5 258.3 9.8 259.3 8 260.3 6.3 261.3 4.7 262.5 M39 209.8L38.3 211.7 37.5 213.5 36.6 215.3 35.7 217 34.8 218.9 34 220.7 33.4 222.6 33.1 224.6 32.8 226.5 32.7 228.5 32.7 230.5 33.1 232.5 33.5 234.5 34.2 236.3 34.9 238.2 35.7 240 36.5 241.9 37.1 243.8 37.6 245.7 37.9 247.7 38.3 249.7 38.7 251.6 39.2 253.6 39.7 255.5 40.3 257.4 40.9 259.3 41.4 261.3 41.9 263.2 42.2 265.2 42.3 267.2 42.4 269.2 42.3 271.2 42 273.1 41.5 275.1 41 277 40.4 278.9 39.7 280.8 39 282.7 38.4 284.6 37.6 286.4 36.7 288.2 35.7 289.9 34.5 291.6 33.4 293.2 32.2 294.8 31 296.4 29.9 298.1 28.8 299.8 27.8 301.5 26.8 303.2 25.8 304.9 24.6 306.6 23.4 308.2 22.1 309.7 20.8 311.2 19.5 312.7 18.1 314.1 16.7 315.5 15.3 317 14 318.5 12.8 320.1 11.6 321.7 10.4 323.3 9.2 324.9 7.9 326.4 6.7 328 5.4 329.5 4.1 331.1 3 332.8 1.9 334.4 0.9 336.2 0 337.9 -0.7 339.8 -1.4 341.7 -1.9 343.6 -2.3 345.6 -2.7 347.5 -3 349.5 -3.2 351.5 -3.6 353.5 -3.9 355.4 -4.3 357.4 M23.4 308.2L21.8 309.3 20.2 310.5 18.9 312 17.6 313.6 16.3 315.1 14.8 316.3 M56.2 201.3L55.7 203.2 55.1 205.2 54.6 207.1 54 209 53.4 210.9 52.8 212.8 52.1 214.7 51.4 216.5 50.4 218.3 49.3 220 48.1 221.6 46.8 223.1 45.4 224.5 44 226 42.6 227.4 41.2 228.8 39.7 230.1 38.2 231.5 36.8 232.9 35.5 234.4 34.2 235.9 32.9 237.5 31.8 239.1 30.7 240.7 29.7 242.5 28.9 244.4 28.3 246.2 27.7 248.1 27.1 250.1 26.5 252 26 253.9 25.6 255.9 25.2 257.8 24.8 259.8 24.3 261.7 23.8 263.7 23.4 265.6 22.9 267.6 22.3 269.5 21.6 271.3 20.9 273.2 20.2 275.1 19.5 277 18.7 278.8 18.1 280.7 17.5 282.6 17 284.5 16.6 286.5 16.3 288.5 16.2 290.5 16.1 292.5 16 294.5 15.9 296.5 15.7 298.5 15.5 300.5 15.3 302.4 15 304.4 14.8 306.4 14.5 308.4 14.1 310.3 13.7 312.3 13.3 314.3 12.9 316.2 12.5 318.2 12.2 320.2 11.9 322.1 11.7 324.1 11.3 326.1 11 328.1 10.5 330 10 332 9.5 333.9 9.1 335.8 8.7 337.8 8.2 339.7 7.6 341.7 7.1 343.6 6.5 345.5 5.9 347.4 5.3 349.3 4.6 351.2 3.8 353 3 354.8 1.9 356.6 0.8 358.2 -0.4 359.8 -1.6 361.4 M7.1 343.6L7.7 345.5 8.3 347.4 8.8 349.3 9 351.3 8.9 353.3 8.3 355.2 7.5 357.1 6.5 358.8 5.1 360.2 M55.6 198.6L54.7 200.4 54 202.3 53.3 204.1 52.6 206 51.9 207.9 51.3 209.8 50.8 211.8 50.3 213.7 49.9 215.7 49.5 217.6 49.1 219.6 48.7 221.5 48.4 223.5 48.1 225.5 47.8 227.5 47.6 229.5 47.4 231.4 47.1 233.4 46.8 235.4 46.5 237.4 46.2 239.4 45.7 241.3 45.1 243.2 44.4 245.1 43.6 246.9 42.9 248.8 42.3 250.7 41.8 252.6 41.4 254.6 41.2 256.6 41.1 258.6 40.9 260.6 40.6 262.5 40.3 264.5 40 266.5 39.6 268.5 39.2 270.4 38.6 272.3 37.9 274.2 37 276 36 277.7 34.9 279.4 33.7 281 32.6 282.7 31.5 284.3 30.4 286 29.3 287.7 28.1 289.3 26.9 290.9 25.6 292.4 24.3 293.9 22.8 295.3 21.3 296.6 M47.4 231.4L47.8 233.4 48.2 235.4 48.6 237.3 M52.8 203.9L52 205.7 51.3 207.5 50.7 209.4 50.2 211.4 49.6 213.3 48.9 215.2 48.2 217 47.5 218.9 46.8 220.8 46.2 222.7 45.7 224.6 45.1 226.5 44.4 228.4 43.6 230.2 42.8 232.1 41.9 233.9 41 235.7 40.1 237.4 39.1 239.2 38 240.8 36.7 242.4 35.3 243.8 33.9 245.2 32.6 246.7 31.3 248.3 30.1 249.9 29 251.5 27.8 253.2 26.8 254.8 25.8 256.6 24.9 258.4 24 260.2 23.1 262 22.3 263.8 21.5 265.6 20.7 267.5 20 269.4 19.3 271.2 18.7 273.1 18.2 275.1 17.9 277 17.5 279 17.1 281 16.8 282.9 16.5 284.9 16.2 286.9 16.1 288.9 15.9 290.9 15.7 292.9 15.4 294.8 15 296.8 14.6 298.8 14.2 300.7 13.9 302.7 13.5 304.7 13.2 306.6 13 308.6 12.7 310.6 12.4 312.6 12.2 314.6 11.9 316.6 11.8 318.5 11.6 320.5 11.5 322.5 11.3 324.5 10.9 326.5 10.6 328.5 10.2 330.4 9.8 332.4 9.4 334.3 8.8 336.3 8.1 338.1 7.2 339.9 6.2 341.6 5.1 343.3 4 344.9 2.7 346.5 1.5 348.1 0.4 349.8 -0.8 351.4 -2.1 352.9 -3.4 354.5 -4.7 355.9 -6 357.4 -7.3 359 -8.5 360.6 -9.6 362.2 -10.7 363.9 -11.8 365.6 -12.7 367.4 -13.7 369.1 -14.6 370.9 -15.4 372.7 -16.1 374.6 M20.7 267.5L19 268.4 17.2 269.4 15.6 270.6 M32.6 246.7L32.9 248.7 33.1 250.7 33.2 252.7 33.3 254.7 M49.2 190.6L48.2 192.4 47.2 194.1 46.1 195.8 44.9 197.4 43.5 198.8 42.1 200.2 40.7 201.6 39.2 203 37.7 204.3 36.1 205.5 34.6 206.8 33 208.1 31.5 209.3 29.8 210.5 28.1 211.5 26.4 212.5 24.7 213.5 23 214.6 21.2 215.6 19.5 216.6 17.8 217.6 16.1 218.6 14.3 219.5 12.4 220.2 10.5 220.8 8.6 221.4 6.7 222.2 4.9 223 3.1 223.8 1.3 224.6 -0.6 225.5 -2.4 226.2 -4.3 226.8 -6.3 227.4 -8.2 228 -10.1 228.5 -12 229.2 -13.8 229.9 -15.7 230.6 -17.6 231.3 -19.5 232 -21.3 232.7 -23.2 233.4 -25 234.2 -26.9 234.8 -28.8 235.5 -30.7 236.2 -32.5 237 -34.4 237.7 -36.3 238.4 -38.2 239.1 -40 239.8 -41.9 240.5 -43.7 241.3 -45.5 242.2 -47.2 243.2 -48.9 244.3 -50.6 245.4 -52.3 246.4 -54 247.5 -55.7 248.6 -57.3 249.7 -59 250.8 -60.7 251.8 -62.5 252.8 -64.2 253.9 -65.9 254.8 -67.7 255.6 -69.6 256.3 -71.5 256.9 -73.5 257.4 -75.4 257.9 -77.4 258.3 -79.4 258.6 -81.3 258.9 -83.3 259.1 -85.3 259.4 M-62.5 252.8L-62.4 254.8 -62.5 256.8 -62.7 258.8 -62.9 260.8 -63.3 262.8 M8.6 221.4L8.3 223.4 7.9 225.4 7.6 227.4 7.3 229.3 7.1 231.3 7.1 233.3 M44.4 231.5L43.7 233.3 42.9 235.2 41.9 236.9 40.9 238.6 39.7 240.3 38.6 241.9 37.4 243.5 36.1 245 34.6 246.4 33.1 247.7 31.4 248.8 29.7 249.7 27.8 250.5 25.9 251.1 24 251.8 22.2 252.5 20.3 253.3 18.4 254 16.6 254.7 14.7 255.4 12.8 256.1 10.9 256.7 9 257.3 7.1 257.9 5.2 258.5 3.3 259.2 1.4 259.9 -0.4 260.7 -2.2 261.6 -4 262.4 -5.7 263.4 -7.5 264.4 -9.1 265.5 -10.7 266.7 -12.3 268 -13.7 269.3 -15.1 270.8 -16.5 272.3 -17.9 273.7 -19.3 275.1 -20.8 276.5 -22.2 277.9 -23.5 279.3 -24.8 280.9 -26.1 282.4 -27.3 284 -28.3 285.7 -29.2 287.6 -29.8 289.4 -30.5 291.3 -30.9 293.3 -31.2 295.3 -31.5 297.2 -31.6 299.2 -31.7 301.2 -32 303.2 -32.2 305.2 -32.6 307.2 -33 309.1 -33.6 311 -34.3 312.9 -35.2 314.7 -36 316.5 -36.7 318.4 -37.4 320.3 -38.1 322.2 -38.8 324 -39.6 325.9 -40.4 327.7 -41.4 329.5 -42.4 331.2 -43.6 332.8 -44.8 334.3 -46.1 335.9 -47.3 337.5 -48.6 339 -49.8 340.6 -51.2 342.1 -52.5 343.6 -53.6 345.2 M-28.3 285.7L-27.8 287.7 -27.7 289.7 -28.1 291.7 -28.8 293.5 -29.7 295.3 M-28.3 285.7L-27.6 287.6 -26.9 289.5 -26.1 291.3 -25.7 293.3 -25.3 295.2 -25 297.2 -24.7 299.2 -24.4 301.2 -24.4 303.2 -24.5 305.2 M55.6 196.2L54.8 198.1 54 199.9 53.2 201.7 52.4 203.6 51.6 205.4 50.9 207.3 50.2 209.1 49.6 211 49 213 48.4 214.9 47.9 216.8 47.3 218.7 46.7 220.6 46.1 222.5 45.5 224.4 44.8 226.3 44.1 228.2 43.5 230.1 42.9 232 42.3 233.9 41.6 235.8 40.9 237.6 40 239.4 39 241.2 37.9 242.8 36.8 244.5 35.7 246.2 34.7 247.9 33.6 249.6 32.5 251.2 31.3 252.9 30.2 254.5 29 256.1 27.7 257.7 26.3 259.1 25 260.6 23.6 262.1 22.3 263.5 21 265.1 19.7 266.6 18.4 268.1 17 269.5 15.6 270.9 14.1 272.3 12.5 273.5 10.8 274.6 9 275.5 7.2 276.3 5.4 277.2 3.6 278 1.8 278.8 -0 279.8 -1.8 280.7 -3.5 281.7 -5.3 282.6 -7.1 283.5 -8.8 284.5 -10.5 285.5 -12.1 286.8 -13.6 288.1 -15.1 289.4 -16.6 290.8 -18 292.2 -19.3 293.7 -20.5 295.3 -21.7 296.9 -22.7 298.6 -23.6 300.4 -24.6 302.1 -25.6 303.9 -26.5 305.7 -27.4 307.5 -28.2 309.3 -29.1 311.1 -29.9 312.9 -30.7 314.7 -31.5 316.6 -32.2 318.5 M37.9 242.8L36.3 244 34.5 245 32.7 245.8 30.8 246.3 28.8 246.6 26.8 247.1 24.9 247.5 M-3.5 281.7L-5.2 282.7 -7 283.7 -8.7 284.8 -10.4 285.8 -12.1 286.9 M37.9 242.8L37.8 244.8 38.1 246.8 38.5 248.8 38.8 250.7 38.8 252.7 38.4 254.7 37.5 256.5 36.2 258.1 34.8 259.4 33.4 260.8 M35.5 202.4L34.1 203.8 32.6 205.1 31 206.4 29.5 207.7 28.1 209 26.7 210.5 25.3 211.9 23.9 213.4 22.6 214.9 21.3 216.4 20.1 218 18.8 219.6 17.6 221.1 16.3 222.7 15 224.2 13.7 225.7 12.4 227.2 11 228.7 9.6 230.1 8.1 231.4 6.7 232.8 5.2 234.1 3.6 235.3 1.9 236.5 0.3 237.6 -1.4 238.7 -3.1 239.8 -4.7 240.9 -6.4 242 -8 243.2 -9.6 244.4 -11.1 245.7 -12.7 247 -14.2 248.3 -15.7 249.6 -17.2 250.9 -18.7 252.2 -20.2 253.5 -21.7 254.8 -23.2 256.1 -24.7 257.5 -26.1 258.9 -27.5 260.4 -28.7 261.9 -29.8 263.6 -30.8 265.4 M15 224.2L13.1 224.8 11.2 225.3 9.3 226.1 M-18.7 252.2L-19 254.2 -19.2 256.2 -19.4 258.1 M47.7 208.3L46.5 210 45.3 211.5 44 213.1 42.8 214.7 41.5 216.2 40.4 217.8 39.2 219.5 37.9 221 36.8 222.6 35.6 224.3 34.7 226.1 33.8 227.9 33 229.7 32.2 231.5 31.5 233.4 30.9 235.3 30.3 237.2 29.8 239.2 29.3 241.1 28.8 243 28.3 244.9 27.6 246.9 26.9 248.7 26 250.5 25.2 252.3 24.4 254.1 23.6 256 22.9 257.9 22.3 259.8 21.7 261.7 21.2 263.6 20.8 265.6 20.4 267.5 19.9 269.5 19.4 271.4 18.8 273.3 18.2 275.2 17.8 277.2 17.3 279.1 16.8 281.1 16.3 283 15.7 284.9 15 286.8 14.3 288.6 13.5 290.5 12.7 292.3 M26 250.5L24.5 251.8 22.9 253 21.2 254.1 19.5 255.1 17.7 255.9 15.8 256.6 M44 194.7L43.4 196.6 42.7 198.5 42 200.4 41.4 202.3 40.9 204.2 40.5 206.2 40.2 208.2 39.8 210.1 39.5 212.1 39.1 214.1 38.7 216 38.3 218 37.8 219.9 37.4 221.9 37.1 223.9 36.7 225.8 36.3 227.8 35.8 229.7 35.4 231.7 34.8 233.6 34.2 235.5 33.6 237.4 32.8 239.3 31.9 241 31 242.8 30 244.5 28.9 246.2 27.7 247.8 26.4 249.4 25.1 250.9 23.8 252.4 22.5 253.9 21.2 255.4 19.9 256.9 18.5 258.4 17.1 259.8 15.7 261.2 14.2 262.6 12.7 263.9 11.2 265.2 9.8 266.6 8.3 268 7 269.5 5.8 271.1 4.9 272.8 4.1 274.7 3.5 276.6 3.1 278.6 2.9 280.6 2.7 282.5 2.3 284.5 1.9 286.5 1.4 288.4 0.8 290.3 -0.1 292.1 -1.2 293.8 -2.2 295.5 -3.3 297.1 -4.5 298.8 -5.8 300.3 -7.1 301.8 -8.4 303.3 -9.8 304.8 -11.1 306.3 -12.4 307.8 M35.8 229.7L36.4 231.6 37 233.5 37.5 235.5 37.8 237.5 38 239.5 M41.4 211.5L40.6 213.3 39.6 215.1 38.7 216.9 37.8 218.6 36.9 220.4 36 222.2 35 224 34 225.7 32.9 227.3 31.8 229 30.8 230.8 29.8 232.5 28.7 234.2 27.6 235.8 26.4 237.4 25.1 239 23.9 240.6 22.7 242.1 21.4 243.7 20.2 245.3 18.8 246.7 17.5 248.2 16.1 249.7 14.7 251.1 13.4 252.6 12 254 10.6 255.5 9.3 257 7.8 258.4 6.4 259.8 5 261.2 3.5 262.5 2 263.9 0.4 265.1 -1.2 266.2 -2.9 267.3 -4.6 268.3 -6.4 269.3 -8.1 270.2 -9.9 271.2 -11.7 272.1 -13.5 272.8 -15.4 273.6 -17.2 274.3 -19.1 275 -21 275.8 -22.8 276.5 -24.7 277.3 -26.5 278.2 -28.3 279 -30 280 -31.7 281.1 -33.4 282.2 -35 283.4 -36.5 284.7 -38 286 -39.5 287.4 -41 288.7 -42.4 290 -43.9 291.4 -45.4 292.7 -47 294 -48.5 295.3 -50 296.6 -51.4 298 -52.9 299.3 -54.3 300.8 -55.7 302.2 -57.1 303.6 -58.6 305 -60.1 306.3 -61.7 307.4 -63.4 308.6 -65 309.7 -66.5 311 -68 312.3 -69.5 313.7 -70.9 315.2 -72.3 316.6 -73.7 318 -75 319.5 -76.4 321 -77.8 322.4 -79.2 323.8 -80.7 325.2 -82.1 326.5 -83.6 327.9 M-52.9 299.3L-54.6 300.4 -56.2 301.5 -58 302.6 -59.7 303.6 -61.5 304.4 M81.1 160.9L79.7 161.2 78.6 162.8 77.3 164.1 76.1 166.6 73.9 167.7 72.3 169.9 70.8 171.5 69.7 172.9 67.9 175.1 66.7 176.8 66 179.2 66.8 182.1 65.5 184.6 65.4 186.7 64.9 188.7 64.8 191 65.7 191.9 65.6 193.8 M69.6 159.4L70 160.2 68.9 161.5 69.2 164.2 69 166.2 68.6 168.6 68.3 171.5 68.8 173.6 67.7 175.6 67.7 177.8 67.5 180.6 67.6 182.1 67.9 185.1 67 187.3 66.5 189.2 66.2 191.2 66 192.8 65.9 194.1 M66.2 159.5L66.8 160.5 66.7 162.7 67.6 165.3 67.9 167 67.8 169.2 68.5 171.8 67.1 175 67.8 176.9 67.4 179.1 66.6 180.9 66.4 183 64.7 185.6 63.8 188 62.2 190.4 61.1 192 60.1 193.2 59.4 193.7 M77.3 159.3L76.5 161.8 75.7 161.7 74.2 164.2 73.1 165.4 72.6 167.5 71.5 169.7 70.3 171.5 68.6 174 67.5 175.5 67.1 177.2 66.1 179.4 65.2 181.5 64.3 184.2 63.8 186.3 63.1 188.3 63.3 190.9 61.9 192.6 61.8 195.1 60.6 195.7 M70.2 160.7L70.3 161.8 69.6 163.5 68.9 165.5 68.3 167.8 68.4 169.2 66.7 172.1 67.4 174.6 66.8 176.4 66.3 179.3 66.3 181.3 65.9 183.8 65.5 186.3 65.2 189 65.8 191 65.3 193.2 65.6 194.4 65.4 196.9 M69.2 159.1L68.8 159.8 67.9 161.7 68.2 163.2 67 165.3 67.1 167.8 66.6 168.8 65.6 171.6 64.7 173.5 64.5 176.3 63 177.7 63.1 180.3 61.5 183.1 60.7 185.1 59.3 187.4 58.6 190.2 57.4 191.5 56.7 194.5 56.4 195.3 55.3 196.6 M66.8 160.5L66.6 162.5 66.1 164.4 65.5 166.3 64.9 168.2 64.4 170.2 64.2 172.2 64.2 174.2 64.5 176.1 65.1 178 65.9 179.9 66.6 181.7 67.4 183.6 68.4 185.3 M60.9 127.6L60.7 129.6 60.7 131.6 61.1 133.6 61.7 135.5 62.4 137.4 63 139.3 63.7 141.2 64.6 142.9 65.7 144.6 67.2 145.9 M83.1 134.2L81.2 133.5 79.3 132.8 77.4 132.2 75.4 131.9 73.4 131.8 71.4 131.6 69.4 131.6 67.4 131.6 65.5 131.7 63.5 132 61.5 132.1 59.5 132.1 57.5 132 M69.3 159.8L69.6 161.8 70.2 163.7 70.9 165.6 71.6 167.4 72.5 169.2 73.2 171.1 73.7 173.1 74.2 175 74.7 176.9 M86 125.7L84.1 125.3 82.2 124.7 80.3 123.9 78.5 123.2 76.6 122.5 74.7 121.9 72.8 121.1 71 120.2 69.3 119.2 67.5 118.4 65.7 117.4 63.9 116.7 61.9 116.2 M58.6 118.6L60.6 119.1 62.5 119.7 64.3 120.6 65.8 121.9 67.2 123.3 68.6 124.7 69.9 126.3 71 127.9 71.9 129.7 72.9 131.4 M88.5 150.9L88.1 152.9 87.7 154.8 87.3 156.8 86.7 158.7 86 160.5 85.1 162.3 84.1 164.1 83.3 165.9 82.6 167.8 81.9 169.7 M69.9 150.4L69.7 148.4 69.6 146.4 69.2 144.5 68.6 142.5 68 140.7 67 138.9 65.8 137.3 64.4 135.8"/>
</g>
<g fill="#fbd000">
<circle cx="69.5" cy="121" r="1.4"/>
<circle cx="84.5" cy="125.5" r="1.4"/>
<circle cx="83.5" cy="123.5" r="1.2"/>
<circle cx="73.5" cy="148.5" r="1.3"/>
<circle cx="74" cy="152" r="1.3"/>
<circle cx="74.5" cy="154.5" r="1.2"/>
<circle cx="74" cy="164.5" r="1.2"/>
</g></g>
</defs>
<text x="0" y="20.3" font-size="27.5">a</text>
<rect x="1" y="24" width="161.6" height="419.6" fill="#050731"/>
<g clip-path="url(#rc)" style="--ow:0.65;--tw:0.75"><use href="#nrn"/></g>
<rect x="1.5" y="24.5" width="160.6" height="418.6" fill="none" stroke="#000" stroke-width="1"/>
<circle cx="74.9" cy="140.9" r="28.6" fill="none" stroke="#fff" stroke-width="0.9"/>
<circle cx="162" cy="396.5" r="68.5" fill="#050731"/>
<g clip-path="url(#cc)"><path fill="none" stroke="#1f7186" stroke-width="2.2" stroke-linecap="round" stroke-linejoin="round" d="M93.4 391.6L95 390.3 96.6 388.5 98.8 385.9 101.2 383.4 103.6 380.8 106.3 378.2 108.4 375.8 110.7 373.6 113 371.5 115.3 368.9 117.8 367.1 119.9 364.6 122.5 362.9 124.8 361.2 127.6 359.6 130.3 358.3 133.3 356.9 136 355.6 138.9 354.1 141.5 352.8 144.2 350.9 146.7 349 149.2 346.9 151.9 345.1 154.2 343.3 157.1 341.4 159.8 340.2 162.6 338.7 165.7 337 168.3 335.9 171.1 334.5 174 333.5 176.3 332.2 181.2 330.5 184.9 329.1 187.2 328 M139.7 330.6L140.2 332.3 140.4 334.7 140.8 337.2 141.5 340.4 142.4 343.8 142.9 347.3 143.5 350.9 144 354.5 144.5 358.4 145.1 361.3 145.5 364.2 145.8 367.2 146.4 370.2 146.7 373.4 146.9 376.6 147.3 379.9 147.8 383.2 148 386.6 148.7 389.5 148.9 392.6 149.4 395.7 149.7 398.3 150 402.1 150.7 405.2 151 408.4 151.5 411.8 152 414.9 152.5 417.6 152.8 421.1 153.1 423.8 153.5 427 153.6 430.4 153.5 433.3 153.6 436.5 153.5 440.2 153.5 443.4 153.3 447.3 153.3 450.4 153.3 453.7 152.7 456.8 152.8 459.6 152.7 461.7 152.4 463.3 M162.1 328.5L162.1 330.5 162.5 333 162.7 335.7 163 338.9 163.5 342.4 163.6 346.1 163.9 349.9 163.8 353.8 163.7 357.6 163.6 360.6 163.4 363.2 162.9 366.1 162.7 369.1 162 372.1 161.5 375.1 161 378.2 160.3 381.3 160.1 384.5 159.6 387.6 159.1 391 158.7 394.1 158.8 397.2 158.3 400.4 158.3 403.7 158.3 407.2 158.2 410.4 158.1 413.7 158.2 417.4 158.3 420.8 158.5 424 158.7 427.2 158.4 430.4 158.7 433.4 158.5 436.4 158.6 439 158.4 443.3 158.3 447.3 158 451.1 157.9 454.5 157.8 457.9 157.4 461 157.3 463.1 157.2 465.1 M178 328.1L177.8 329.8 177.7 332.1 177.5 335.1 177 338.4 177 341.6 176.8 345.3 176.2 348.9 175.9 352.1 175.3 355.4 175.1 358.2 174.7 361.6 173.9 365.1 173.4 368 172.5 370.7 171.8 373.8 171.2 376.3 170.5 379.2 170 382.2 169.7 385.1 169.3 387.7 168.9 390.7 168.6 393.6 168.3 397.6 168.3 400.2 167.7 403 167.5 405.9 167.1 408.9 167.1 412.3 166.8 415.9 166.7 419.1 166.4 422.5 166.2 425.9 166.1 429.4 165.9 432.3 165.6 435.5 165.6 438.9 165.3 442.5 165.1 446 165.1 449.5 165 453 164.8 456.3 164.4 459.2 164.3 461.8 164.4 464.2 164.3 466 M184.8 329.9L184.4 332.1 184.4 334.4 183.9 337.3 183.6 340.5 183.1 344.2 182.9 347.9 182.5 351.7 182.1 355.6 182.1 359.6 182 362.3 181.9 365.6 182 368.7 182 372.1 182 375.6 181.9 379.1 182.1 382.5 182.3 386 182.5 389.2 182.9 392.1 183.1 395 183.4 397.5 184.7 401.6 186.3 405.2 188.2 408.1 190 410.7 192 413.1 193.5 415.9 195.2 419.3 196.7 422.7 198.4 425.8 199.3 429.2 200.6 432.2 201.4 435.8 202.6 439.5 203.2 443.1 203.8 446.3 204.4 449.5 204.9 453.2 204.9 456.8 205.3 459.7 205.4 461.7 M163.3 338.8L166.3 338.1 170.6 336.8 175 335.6 177.7 334.6 M95.1 413.3L97.4 413.6 100.8 413.7 104.8 414 108.3 414.6 111.2 415.5 113.8 417.4 115.4 420.1 117.2 422.5 119.7 424.5 122.3 425.3 125.1 425.8 128.4 426.2 131.8 426 135 426.5 137.8 426.7 141.9 427.6 145.3 428.6 149.1 429.3 152.2 430 155.9 430.7 159.4 431.4 162.8 431.9 165 432.2 M119.6 446.9L122.2 447.4 125.8 447.8 129.7 448.7 133.6 449.5 136.7 450.9 139.1 454 140.5 457.5 141.6 461 142.3 463.5 M174.8 464.1L175.9 463 177.6 461.6 179.7 459.7 181.9 457.5 184.5 455.3 187 453 189.7 450.5 192.6 448.3 195 446.2 197.5 444.1 199.6 442.4 202.7 440 205.6 438.1 208.9 436.2 212.1 434.4 215.2 432.9 217.7 431.3 219.7 430 221.8 428.9 225.6 426.4 226.4 425.5 M201 441.4L202 438.8 203.5 435.3 205.3 432.3 208.3 429.4 211.5 427 214.4 424.1 216.5 422"/><path fill="none" stroke="#2b4550" stroke-width="1.8" stroke-linecap="round" d="M110.5 434.7L112.5 435.4 115.2 436.2 118.4 437.3 122.3 438 125.7 439.2 128.9 440.4 132.2 441.7 135.8 442.7 139.4 444.1 142.8 445.2 145.3 446.1 147.5 446.8 M203.6 433.8L205.6 434.4 209 435.5 212 436.9 215.6 438.7 218.1 440.2"/><path fill="none" stroke="#bf6132" stroke-width="1.55" stroke-linecap="round" stroke-linejoin="round" d="M120.8 342.5L121.4 344.6 121.7 347.6 122 350.3 123.3 354.4 123.9 357.3 124.8 360.5 125.7 363.6 126.5 367.1 127.2 370.9 128.6 374.5 129.1 377.7 130.2 380.1 131 383.1 131.2 386.2 132.1 390.1 131.9 394.1 131.9 396.3 132.1 399.4 131.9 401.6 131 405.6 130.4 407.7 130.4 411.7 130 414.3 129.5 417.9 128.9 421.1 128.6 424.5 128.3 427.6 127.6 429.9 127.4 433.3 127.5 436.9 126.1 440.3 126.4 444.5 126.1 448.1 125.5 451.8 125.2 454.5 125.3 458.1 124.6 460.6 124.9 463.2 124.3 465.1 M134.9 330.1L135.2 331.2 135.2 334 135.1 336.2 135.7 338.5 135.7 341.9 136.1 344.5 136.3 348.1 136.3 351.8 136.6 355 136.9 358.7 137.2 362.2 136.6 366.3 137.4 369.7 137.4 373.2 137.6 376.5 137.9 380.2 137.6 383.6 137.8 386.7 138.1 390.3 137.8 392.5 138.2 395 138.4 399 137.9 402.8 137.6 406.4 137.4 409.3 137.8 411.8 137.3 414.6 137.5 417.3 136.3 420 136.7 422 135.4 425.9 135.7 427.9 135.6 431.9 134.3 435.2 134.5 438.5 133.6 442.3 133 445.9 132.6 449.4 132.2 453.3 131.7 456.5 131.4 459.2 130.5 462.3 130.5 464.1 129.7 466.4 M149.2 332.5L149.3 334 149 336.5 148.7 339.1 148.5 342.6 148.1 345.5 148.6 349.8 148.4 353.4 148.4 356.7 147.9 360.5 148.7 363.9 148 367.2 147.9 369.6 148.6 373.8 148.8 377.1 148.8 380.1 149 383.3 149 385.5 149.2 389.3 149.3 391.8 149.9 395.7 148.9 398.8 148.7 401.3 147.8 404.3 147.4 407.1 147.3 410.1 146.1 413.1 146.1 416.5 145 419.4 144.7 422.8 144.1 425.7 143.3 428.8 143 431.6 142.2 435.2 141.6 437.8 141.1 441.1 140 445.1 139.6 448.5 139.1 451.5 138.4 454.8 137.7 458.1 137.1 460.5 136.6 463.4 136.3 465.3 135.8 467.2 M94.2 399.8L97 398.2 99.9 396.6 103.1 394.2 106.5 392 109.7 390.7 112.7 389.3 115.8 388.8 118.6 388.6 121.4 388.6 124.5 387.6 127.4 387 130.1 386.5 133.3 385.7 136.9 385.5 140.4 384.6 143.1 384.4 147.2 384.6 150.5 384.3 154.9 384 158.1 383.8 161.7 383.4 164.4 383.7 169.4 382.7 173.1 381 175.1 379.9 M103.5 379.5L105.2 376.4 107.2 373.1 110.2 371.2 112.4 371.7 115.2 373.9 118 376.7 121.5 378.7 124 380.3 126.8 382.4 129.6 384 132.4 385.5 136 387.1 139.8 387.8 143 389 146.9 389.6 150.1 390.3 152.9 390.8 M99.5 396.2L101.7 396.3 104.9 397.1 108.8 397.5 111.9 398.3 115.3 398.7 118.8 400 122.3 400.7 125.9 400.7 129.5 401.4 132.3 400.7 136.2 401 138.7 399.9 142 399.2 144.5 398 148 398.1 151.7 397.6 155.2 397.5 159.1 397.2 162.1 397.3 163.8 397.2 M154.4 329L154 331.2 154.3 333.5 154 336.1 154.2 339.7 154.3 343.1 154.3 346.7 153.5 351 153.7 354.4 153.5 358.1 153.3 361 153.1 364.5 152.8 368.1 152.5 371.3 152.1 375.3 151.4 378.9 151.4 382.6 151.4 385.8 150.6 389.4 150.1 391.5 149.9 393.9 149.8 395.9 M125.9 330.7L126.6 332.9 128.2 335.5 129.3 338.4 130.5 341.9 131.8 345.3 132.7 348.9 134 351.4 134.7 354.6 135.8 357.3 136.3 360.4 137.2 363.7 138.6 366.8 139.7 370.4 140.2 373.3 141 376.8 141.8 380.3 142.6 383.6 143.5 386.8 143.8 390.1 144.4 392.3 145.4 393.9 M159.6 341.6L161.4 343 164.6 344.9 167.4 347.3 170.5 349.7 174.4 352.4 176.1 354.4 178.4 356.3 180.7 357.6 183.4 360.3 185.9 361.8 188.6 364.1 190.9 366 193.6 367.8 196.3 369.6 199 371.1 201.4 372.7 205.2 374.4 208.1 376.2 210.8 377.8 213.7 379.3 215.5 380.1 217.1 381 M180.1 386.5L181.7 384.5 183.2 382.5 185.1 379.4 187.4 376.2 189.6 373.9 192.2 370.3 194.3 367.7 196.6 365.3 198.7 362.3 201.5 360 203.8 357.5 206.3 355.2 208.5 353.3 210.8 351.3 214 348.1 216.8 345.9 218.5 344.3 M195 337.6L194.1 339.8 193.3 342.7 193.5 346.2 192.6 350.2 192.1 353.5 191 357.5 190.5 360.1 188.8 363.6 187.8 366.3 186.7 369.6 185.2 372.7 184.5 375.8 183.4 378.6 182.8 382.6 181.7 385.9 181.1 389.5 180.2 391.9 179.8 394.2 M223 367.2L219.5 367.8 215.8 369.2 210.9 370.6 208.7 371.7 204.9 373 202.6 374 198.5 376 195.8 377.2 192.2 378.2 188.3 380.2 185 381.9 182 382.9 179.6 384.2 M202.4 378.4L203.7 380 206.6 382.1 209 385.5 211.4 387.8 213.5 389.9 215.4 392.7 217.6 395 219.4 397.4 220.5 401.8 221.3 405.6 221.9 409 M198.3 352L200.8 353.5 204.5 354.8 208.6 352.5 211.6 349.7 M166.1 329.9L165.8 332.1 166.4 334.4 166.7 337.4 167.2 340.4 167.5 344 168.2 347.3 168.6 350.8 168.6 354.7 169 358.6 169.1 361.1 169.8 364.6 170 368.5 170.1 372 170.8 375.8 170.8 379.7 170.9 382.7 171.2 386.6 171.6 389.6 171.9 391.7 171.7 393 M167.7 330.2L169.4 332.8 170.5 336.2 171.9 339.9 173.8 344.2 174.7 347 176 351.2 176.8 354.9 177.9 357.9 178.3 360.4 M199.9 332.4L200.8 335 201.3 338.9 201.9 342.3 202 345.2 M168.5 394.9L168.8 396.4 169.1 399.4 170 401.7 170.4 405.7 170.7 409.4 171.6 413.5 172.2 417.2 172.8 420.4 174 423.9 174.2 426.7 174.8 429.9 175.8 433.7 177 436.6 177.7 439.2 178.9 441.1 179.3 444.4 180.4 447.8 181.8 451.5 182.2 454.6 183.4 458.7 183.3 460.5 M164.4 427.1L167.4 427.1 169.7 428.3 173.1 428.5 176.7 428.9 180.1 429 182.4 429.7 185 427 188.8 425 190.5 424.9 193.8 424.8 197.4 424.9 200.7 425.8 204.4 426.2 207.1 426.1 209.9 426.9 214.3 428.6 217.2 430.1 219 431.6 M216 393L216.7 394.8 217.8 397.8 219.6 401.8 220.9 405.2 221.9 407.9 222.8 410.1 M163.2 394.4L164.8 396.9 166 399.9 168.8 403.1 171.2 406.5 172.8 409.5 174.7 412.4 176.8 415 179.2 417.4 180.6 420.4 183.4 424 186 427.5 187.9 429.9 M174.6 394.8L175.1 397.3 176 400.6 177.1 405.1 177.3 408.9 177.4 412.1 176.7 416.2 176.1 419.7 175 423.5 175.1 425.6 M104.9 429.7L106.8 430.1 109.9 430 112.4 430.8 116.9 431.7 120.3 431.4 123.6 431.9 126.7 432.3 130.1 432.3 133.2 432.5 136.1 433 138.7 432.7 142.1 433.4 145.2 434.1 148.9 434.7 152.1 435.1 155.5 436.1 158.5 436.2 160.2 436.1 M98 405.1L99 402.3 100.6 398.4 103.8 395.4 105.7 394.5 107.8 397 109 399.3 M113.6 343.6L115.1 346 117 348.9 118.9 352.1 120.7 356.2 121.7 359.9 122 363.2 M150.4 338.5L152.1 340.5 153.5 343.5 155.7 346.2 158.2 349.8 160.5 353 162 355.5 164.2 358.8 165.9 360.6 168.5 363.5 170 365.5 173.6 367.6 177.2 370.1 180 371.1 M184.1 340.2L182.6 342 179.7 346 177.3 349.4 175.4 352.1 173.6 355.8 170 358.2 167.3 360.2 164.1 362.3 161.3 364.4 158.7 365.4 M108.7 403.8L111.1 404.7 115 406.8 118.2 408.7 121.6 411.5 124.8 414 127 416.1 M144.9 441L144 443.6 142.7 446.5 141.5 450.3 140 453.9 139.4 457.8 139.3 462.1 138.8 465.6 M170.9 338.5L170.8 341.5 170.4 344.5 170.2 347.5 170 350.5 169.5 353.4 169.2 356.4 169 359.4 169 362.4 168.9 365.4 169.1 368.4 169.6 371.4 170.4 374.3 171.4 377.1 172.3 380 173.1 382.8 173.7 385.8 173.9 388.8 174 391.8 M191.2 340L190.7 342.9 190.1 345.9 189.7 348.8 189.2 351.8 188.6 354.7 187.6 357.6 186.4 360.3 185 363 183.6 365.6 181.9 368.1 180.1 370.5 178.1 372.8 176.1 375 173.9 377 171.6 378.9 169.1 380.6 166.6 382.2 164 383.7 161.3 385.1 158.6 386.4 155.9 387.6 153.1 388.8 M139.3 339.9L138 342.6 136.7 345.3 135.2 347.9 133.9 350.6 132.7 353.3 131.6 356.1 130.8 359 130.2 362 130 364.9 129.9 367.9 130 370.9 129.9 373.9 130 376.9 129.9 379.9 129.7 382.9 129.6 385.9 129.6 388.9 129.8 391.9 130.3 394.9 130.7 397.9 131 400.8 M173.3 339.4L173.3 342.4 173.3 345.4 173.4 348.4 173.1 351.4 172.6 354.4 172 357.3 171.3 360.2 170.4 363.1 169.5 365.9 168.8 368.8 168.2 371.8 167.7 374.7 167.1 377.7 166.5 380.6 165.7 383.5 164.9 386.4 164.2 389.3 163.5 392.2 162.8 395.2 162 398.1 161.3 401 160.5 403.9 159.8 406.8 159.1 409.7 158.3 412.6 M147.2 346.7L145.5 349.2 143.9 351.8 142.4 354.4 140.8 356.9 139.2 359.5 137.5 361.9 135.6 364.2 133.6 366.5 131.6 368.7 129.6 371 127.6 373.1 125.4 375.2 123.1 377.1 M125.6 340.5L125.5 343.4 125.1 346.4 124.7 349.4 124.3 352.4 123.8 355.3 123.2 358.3 122.6 361.2 121.8 364.1 121.1 367 120.5 370 119.9 372.9 119.4 375.8 119 378.8 118.5 381.8 M152.2 330.6L153.4 333.3 154.7 336.1 156 338.8 157.3 341.5 158.8 344.1 160.3 346.6 161.9 349.2 163.4 351.8 165 354.3 166.7 356.8 168.4 359.3 170 361.8 171.7 364.3 173.4 366.8 M190.5 341L191.3 343.9 192.4 346.7 193.7 349.4 194.8 352.2 195.7 355.1 196.5 357.9 197.2 360.9 197.8 363.8 198.3 366.8 198.5 369.8 198.8 372.7 199.1 375.7 199.3 378.7 199.5 381.7 199.7 384.7 199.6 387.7 199.4 390.7 198.9 393.7 198.2 396.6 197.5 399.5 196.7 402.4 M182.5 343L181.3 345.8 180.2 348.6 179.1 351.3 178 354.1 176.9 356.9 175.6 359.6 174.3 362.3 173 365 171.8 367.8 170.5 370.5 169.3 373.2 168.1 376 167.2 378.8 166.3 381.7 165.5 384.6 164.7 387.5 164 390.4 163.4 393.3 162.8 396.3 162.3 399.2 161.9 402.2 161.7 405.2 M132 337.8L131 340.7 130.3 343.6 129.6 346.5 129 349.4 128.6 352.4 128.3 355.4 128.1 358.4 127.9 361.4 128 364.4 128.1 367.4 128.4 370.4 M182.7 342.8L181.6 345.6 180.3 348.3 178.9 351 177.6 353.7 176.4 356.4 175.3 359.2 174.3 362 173.6 365 173.2 367.9 172.9 370.9 172.8 373.9 172.9 376.9 173.2 379.9 173.5 382.9 173.8 385.9 M171.1 335.2L171.5 338.2 171.9 341.2 172.2 344.1 172.2 347.1 171.9 350.1 171.4 353.1 170.8 356 170.2 359 169.6 361.9 168.7 364.8 167.7 367.6 166.5 370.3 165.2 373.1 164 375.8 162.7 378.5 161.3 381.2 159.8 383.8 158.3 386.3 M115.1 365.9L113.2 368.2 111.4 370.6 109.7 373.1 108.1 375.6 106.3 378.1 104.5 380.5 102.7 382.9 100.8 385.2 99 387.6 97.2 390 95.3 392.3 93.4 394.6 91.4 396.8 89.4 399.1 87.6 401.4 M131.8 339.4L129 340.4 126.1 341.4 123.3 342.4 120.4 343.2 117.5 344 114.6 344.8 111.8 345.7 108.9 346.7 106.1 347.8 M197.8 356.5L196 359 194.2 361.3 192.1 363.5 190 365.6 187.8 367.6 185.4 369.5 183.1 371.4 180.7 373.2 178.2 374.8 175.6 376.4 173.1 378 170.6 379.6 168.1 381.4 165.9 383.4 163.9 385.6 162 388 M145.1 347.8L148 347.6 151 347.7 154 347.8 157 347.9 160 348.2 163 348.4 166 348.7 169 348.8 172 348.8 175 348.9 178 349.2 181 349.6 183.9 350 M170.8 360.8L168.5 362.7 166.1 364.5 163.7 366.3 161.4 368.3 159.1 370.3 156.9 372.3 154.8 374.4 M212.2 358.5L209.4 359.6 206.5 360.6 203.8 361.8 201.2 363.3 198.6 364.8 196 366.4 193.6 368.1 191.2 369.9 188.9 371.8 186.7 373.9 M158.4 365L156.2 367.1 154 369.2 152 371.3 149.9 373.5 147.8 375.7 145.9 378 144.1 380.4 142.6 383 141.3 385.7 M139.4 345.6L141.6 343.6 144.1 341.9 146.6 340.3 149.2 338.7 151.8 337.3 154.4 335.8 157 334.4 159.7 333.1 M150.1 372.6L152.9 371.4 155.7 370.3 158.5 369.5 161.5 368.9 164.4 368.5 167.4 368.2 170.4 367.9 173.4 367.9 176.4 368 179.4 368 182.4 368 185.4 367.9 M194.6 349.1L191.9 350.4 189.2 351.7 186.5 353.1 183.9 354.6 181.4 356.2 178.9 357.8 176.4 359.4 173.9 361.1 171.4 362.8 168.9 364.5 166.4 366.1 163.9 367.8 161.6 369.7 M181 351.9L180.6 354.9 180.6 357.9 180.7 360.9 181 363.9 181.3 366.9 181.5 369.9 181.7 372.9 181.9 375.9 182.5 378.8 183.2 381.7 184.2 384.5 185.4 387.3 M125.2 357.8L122.3 357.1 119.4 356.3 116.6 355.3 113.8 354.1 111 352.9 108.3 351.7 105.5 350.6 102.6 349.7 99.7 349.1 96.7 348.7 93.8 348.3 90.8 348.1 M183.4 385.3L180.5 385.9 177.5 386.3 174.5 386.3 171.5 386.1 168.5 385.7 165.6 385 162.8 384 160 382.9 157.3 381.7 154.6 380.3 152.1 378.7 149.6 376.9 147.2 375.2 144.7 373.5 142.2 371.8 139.6 370.3 M161 402.6L158 402.3 155 402 152.1 401.5 149.2 400.7 146.3 399.8 143.5 398.9 140.6 398 137.7 397.5 134.7 397.2 M145.1 402.9L142.3 402.1 139.4 401.3 136.4 400.7 133.5 400 130.6 399.4 127.7 398.6 124.8 397.8 121.9 397.1 M106.5 398.2L108 400.8 109.5 403.4 111 406 112.4 408.7 113.7 411.4 114.9 414.1 116.1 416.9 117.3 419.6 118.4 422.4 119.5 425.2 120.5 428 121.4 430.9 122.2 433.8 122.9 436.7 123.6 439.6"/><g fill="#fbd000"><circle cx="142.2" cy="345.6" r="3.3"/><circle cx="178.5" cy="357.5" r="3.2"/><circle cx="182" cy="350.2" r="2.9"/><circle cx="178.2" cy="354.5" r="3.0"/><circle cx="153.2" cy="409.7" r="3.2"/><circle cx="154.4" cy="412.5" r="3.0"/><circle cx="154.6" cy="414.5" r="3.0"/><circle cx="154.6" cy="421.4" r="3.2"/><circle cx="155.5" cy="424.5" r="3.0"/><circle cx="156.1" cy="427.3" r="3.0"/><circle cx="153.2" cy="450" r="3.2"/><circle cx="152.5" cy="448.5" r="2.6"/></g></g>
<circle cx="162" cy="396.5" r="68.5" fill="none" stroke="#fff" stroke-width="1.6"/>
<line x1="162.5" y1="97.5" x2="202" y2="97.5" stroke="#000" stroke-width="1"/>
<circle cx="202.2" cy="97.6" r="2" fill="#000"/>
<polygon points="256.4,56.5 272.3,49.2 272.3,80.6 256.4,87.9" fill="#f7a04a"/>
<polygon points="209.8,80.6 225.8,87.9 225.8,104.9 209.8,97.8" fill="#5ea6dd"/>
<path d="M225.8 24.4 L256.4 24.4 L272.3 32.3 L256.4 39.9 L225.8 39.9 L209.8 32.3 Z M209.8 49.2 L225.8 56.5 L256.4 56.5 L272.3 49.2 M209.8 80.6 L225.8 87.9 L256.4 87.9 L272.3 80.6 M209.8 97.8 L225.8 104.9 L256.4 104.9 L272.3 97.8 M209.8 114.6 L225.8 121.7 L256.4 121.7 L272.3 114.6 M209.8 131.2 L225.8 138.3 L256.4 138.3 L272.3 131.2 M209.8 32.3 V131.2 M225.8 39.9 V138.3 M256.4 39.9 V138.3 M272.3 32.3 V131.2" fill="none" stroke="#111" stroke-width="1.3" stroke-linejoin="round"/>
<g font-size="13.3"><text x="241.1" y="80.3" text-anchor="middle">L2/3</text><text x="241.1" y="100.1" text-anchor="middle">L4</text></g>
<line x1="168.3" y1="162.1" x2="188.9" y2="162.1" stroke="#5ea6dd" stroke-width="3"/>
<line x1="168.3" y1="178.3" x2="188.9" y2="178.3" stroke="#f7a04a" stroke-width="3"/>
<circle cx="178.6" cy="195.4" r="4.7" fill="#f6c619"/>
<g font-size="13.2"><text x="198.6" y="166.9">presynaptic cell</text><text x="198.6" y="183.3">postsynaptic cell</text><text x="198.6" y="198.6">synapses</text></g>
<text x="324" y="20.3" font-size="29">b</text>
<g font-size="13.3"><text x="345" y="39.7">pre</text><text x="345" y="51.3">post</text></g>
<path d="M384.7 47.5 C388 45 392 43.6 397 42.1 L399.5 29.2 L403.3 39.6 C404.5 41.8 406 42.8 410.2 43.7 C414 44.2 418 44.3 425 44.6 L509.5 45.8" fill="none" stroke="#000" stroke-width="1.5" stroke-linejoin="round"/>
<path d="M447.2 38.2 C452 35.5 456 34 460.4 32.9 L461.9 20.2 L465.5 31 C466.5 33 468 34.5 471 35.3 C480 36 500 36.1 570.8 36.2" fill="none" stroke="#000" stroke-width="1.3" stroke-dasharray="5.2 2.6"/>
<g font-size="13.3"><text x="396.3" y="60.6" textLength="120.4" lengthAdjust="spacing">Frequency = 0.2 Hz</text><text x="396.3" y="73.5" textLength="72.4" lengthAdjust="spacing">Δ<tspan font-style="italic">t</tspan> = -15 ms</text></g>
<path d="M585.2 75.2 588.3 75.2 588.8 53.9 589.3 40.5 589.8 32.1 590.3 27.0 590.8 24.1 591.3 22.4 591.8 21.7 592.3 21.5 592.8 21.7 593.3 22.1 593.8 22.6 594.3 23.3 594.8 24.0 595.3 24.7 595.8 25.4 596.3 26.2 597.8 28.4 599.3 30.5 600.8 32.5 602.3 34.5 603.8 36.4 605.3 38.1 606.8 39.8 608.3 41.4 609.8 43.0 611.3 44.5 612.8 45.9 614.3 47.2 615.8 48.5 617.3 49.7 618.8 50.9 620.3 52.0 621.8 53.1 623.3 54.1 624.8 55.0 626.3 56.0 627.8 56.9 629.3 57.7 630.8 58.5 632.3 59.3 633.8 60.0 635.3 60.7 636.8 61.3 638.3 62.0 639.8 62.6 641.3 63.2 642.8 63.7 644.3 64.2 645.8 64.7 647.3 65.2 648.8 65.7 650.3 66.1 651.8 66.5 653.3 66.9 654.8 67.3 656.3 67.7 657.8 68.0 659.3 68.3 660.8 68.7 662.3 69.0 663.8 69.2 665.3 69.5 666.8 69.8 668.3 70.0 669.8 70.3 671.3 70.5 672.8 70.7 674.3 70.9 675.8 71.1 677.3 71.3 678.8 71.5 680.3 71.6" fill="none" stroke="#5ea6dd" stroke-width="1.3"/>
<path d="M585.2 75.2 588.3 75.2 588.8 65.8 589.3 59.9 589.8 56.2 590.3 53.9 590.8 52.6 591.3 51.9 591.8 51.6 592.3 51.5 592.8 51.6 593.3 51.8 593.8 52.0 594.3 52.3 594.8 52.6 595.3 52.9 595.8 53.2 596.3 53.6 597.8 54.5 599.3 55.5 600.8 56.4 602.3 57.2 603.8 58.1 605.3 58.8 606.8 59.6 608.3 60.3 609.8 61.0 611.3 61.6 612.8 62.3 614.3 62.9 615.8 63.4 617.3 64.0 618.8 64.5 620.3 65.0 621.8 65.4 623.3 65.9 624.8 66.3 626.3 66.7 627.8 67.1 629.3 67.5 630.8 67.8 632.3 68.2 633.8 68.5 635.3 68.8 636.8 69.1 638.3 69.4 639.8 69.6 641.3 69.9 642.8 70.1 644.3 70.4 645.8 70.6 647.3 70.8 648.8 71.0 650.3 71.2 651.8 71.4 653.3 71.5 654.8 71.7 656.3 71.9 657.8 72.0 659.3 72.2 660.8 72.3 662.3 72.4 663.8 72.6 665.3 72.7 666.8 72.8 668.3 72.9 669.8 73.0 671.3 73.1 672.8 73.2 674.3 73.3 675.8 73.4 677.3 73.5 678.8 73.6 680.3 73.6" fill="none" stroke="#f7a04a" stroke-width="1.3"/>
<path d="M655.8 23.5 L655.8 34.7 L674.2 34.7" fill="none" stroke="#000" stroke-width="1.6"/>
<g font-size="13.3"><text x="605.2" y="33.9" textLength="43.9" lengthAdjust="spacing">0.5 mV</text><text x="683.6" y="48.7" text-anchor="end" textLength="37.2" lengthAdjust="spacing">20 ms</text></g>
<rect x="437.3" y="78.2" width="41.4" height="118.6" fill="#d3d3d3"/>
<g fill="#d5d5d5"><circle cx="388.5" cy="83.9" r="1.7"/><circle cx="391.0" cy="83.7" r="1.7"/><circle cx="393.5" cy="83.8" r="1.7"/><circle cx="396.0" cy="84.0" r="1.7"/><circle cx="400.6" cy="83.7" r="1.7"/><circle cx="403.1" cy="84.0" r="1.7"/><circle cx="405.4" cy="83.7" r="1.7"/><circle cx="410.0" cy="83.6" r="1.7"/><circle cx="415.0" cy="84.3" r="1.7"/><circle cx="417.6" cy="83.9" r="1.7"/><circle cx="422.4" cy="84.3" r="1.7"/><circle cx="424.3" cy="83.8" r="1.7"/><circle cx="429.4" cy="83.8" r="1.7"/><circle cx="431.6" cy="83.9" r="1.7"/><circle cx="434.2" cy="84.3" r="1.7"/><circle cx="436.8" cy="84.3" r="1.7"/><circle cx="393.5" cy="97.9" r="1.7"/><circle cx="403.1" cy="97.6" r="1.7"/><circle cx="405.0" cy="97.8" r="1.7"/><circle cx="410.3" cy="97.4" r="1.7"/><circle cx="412.4" cy="97.7" r="1.7"/><circle cx="417.4" cy="97.1" r="1.7"/><circle cx="422.3" cy="97.9" r="1.7"/><circle cx="424.8" cy="97.3" r="1.7"/><circle cx="427.0" cy="97.1" r="1.7"/><circle cx="429.2" cy="97.6" r="1.7"/><circle cx="431.4" cy="97.8" r="1.7"/><circle cx="434.4" cy="97.8" r="1.7"/><circle cx="436.5" cy="97.5" r="1.7"/><circle cx="388.6" cy="101.0" r="1.7"/><circle cx="391.2" cy="101.0" r="1.7"/><circle cx="393.4" cy="100.8" r="1.7"/><circle cx="396.0" cy="101.0" r="1.7"/><circle cx="397.8" cy="100.9" r="1.7"/><circle cx="400.2" cy="101.1" r="1.7"/><circle cx="402.6" cy="101.1" r="1.7"/><circle cx="405.4" cy="100.9" r="1.7"/><circle cx="412.2" cy="101.1" r="1.7"/><circle cx="417.3" cy="101.1" r="1.7"/><circle cx="419.6" cy="100.9" r="1.7"/><circle cx="422.2" cy="100.8" r="1.7"/><circle cx="424.7" cy="100.6" r="1.7"/><circle cx="427.0" cy="100.8" r="1.7"/><circle cx="429.5" cy="100.8" r="1.7"/><circle cx="431.7" cy="101.2" r="1.7"/><circle cx="434.0" cy="100.9" r="1.7"/><circle cx="388.7" cy="114.7" r="1.7"/><circle cx="391.0" cy="115.3" r="1.7"/><circle cx="393.1" cy="114.7" r="1.7"/><circle cx="395.5" cy="115.2" r="1.7"/><circle cx="400.4" cy="115.2" r="1.7"/><circle cx="407.5" cy="114.8" r="1.7"/><circle cx="412.4" cy="114.9" r="1.7"/><circle cx="414.8" cy="115.3" r="1.7"/><circle cx="417.0" cy="115.4" r="1.7"/><circle cx="424.8" cy="115.3" r="1.7"/><circle cx="427.0" cy="115.3" r="1.7"/><circle cx="431.6" cy="114.9" r="1.7"/><circle cx="433.8" cy="115.1" r="1.7"/><circle cx="436.7" cy="114.6" r="1.7"/><circle cx="403.0" cy="119.1" r="1.7"/><circle cx="405.4" cy="119.4" r="1.7"/><circle cx="408.0" cy="119.5" r="1.7"/><circle cx="410.0" cy="119.7" r="1.7"/><circle cx="417.1" cy="119.4" r="1.7"/><circle cx="422.3" cy="119.7" r="1.7"/><circle cx="429.4" cy="119.7" r="1.7"/><circle cx="431.6" cy="119.2" r="1.7"/><circle cx="436.5" cy="119.6" r="1.7"/><circle cx="388.2" cy="124.1" r="1.7"/><circle cx="393.6" cy="124.7" r="1.7"/><circle cx="395.7" cy="124.3" r="1.7"/><circle cx="424.3" cy="124.3" r="1.7"/><circle cx="405.3" cy="132.2" r="1.7"/><circle cx="407.7" cy="131.9" r="1.7"/><circle cx="422.1" cy="131.7" r="1.7"/><circle cx="395.5" cy="142.0" r="1.7"/><circle cx="397.9" cy="141.5" r="1.7"/><circle cx="405.5" cy="141.5" r="1.7"/><circle cx="422.3" cy="141.8" r="1.7"/><circle cx="605.7" cy="122.9" r="1.7"/><circle cx="582.1" cy="126.4" r="1.7"/><circle cx="605.8" cy="126.0" r="1.7"/><circle cx="486.7" cy="131.2" r="1.7"/><circle cx="507.4" cy="131.7" r="1.7"/><circle cx="551.6" cy="131.5" r="1.7"/><circle cx="571.8" cy="131.5" r="1.7"/><circle cx="589.0" cy="131.5" r="1.7"/><circle cx="592.1" cy="131.2" r="1.7"/><circle cx="595.6" cy="131.7" r="1.7"/><circle cx="609.4" cy="131.5" r="1.7"/><circle cx="646.3" cy="131.1" r="1.7"/><circle cx="653.4" cy="131.6" r="1.7"/><circle cx="513.8" cy="133.7" r="1.7"/><circle cx="541.0" cy="133.2" r="1.7"/><circle cx="547.7" cy="133.5" r="1.7"/><circle cx="558.1" cy="133.4" r="1.7"/><circle cx="561.9" cy="133.3" r="1.7"/><circle cx="565.0" cy="133.2" r="1.7"/><circle cx="574.9" cy="133.7" r="1.7"/><circle cx="612.7" cy="133.9" r="1.7"/><circle cx="619.1" cy="133.2" r="1.7"/><circle cx="625.9" cy="133.6" r="1.7"/><circle cx="653.3" cy="133.6" r="1.7"/><circle cx="660.1" cy="133.8" r="1.7"/><circle cx="663.5" cy="133.4" r="1.7"/><circle cx="480.1" cy="142.1" r="1.7"/><circle cx="487.1" cy="141.8" r="1.7"/><circle cx="490.0" cy="142.1" r="1.7"/><circle cx="493.5" cy="141.6" r="1.7"/><circle cx="497.1" cy="142.1" r="1.7"/><circle cx="500.4" cy="141.6" r="1.7"/><circle cx="503.5" cy="141.9" r="1.7"/><circle cx="507.3" cy="141.6" r="1.7"/><circle cx="510.8" cy="142.0" r="1.7"/><circle cx="521.0" cy="142.1" r="1.7"/><circle cx="524.1" cy="141.6" r="1.7"/><circle cx="527.9" cy="141.6" r="1.7"/><circle cx="530.8" cy="141.6" r="1.7"/><circle cx="534.2" cy="141.5" r="1.7"/><circle cx="537.9" cy="142.0" r="1.7"/><circle cx="541.0" cy="142.3" r="1.7"/><circle cx="544.6" cy="141.8" r="1.7"/><circle cx="548.1" cy="142.1" r="1.7"/><circle cx="551.2" cy="141.6" r="1.7"/><circle cx="555.0" cy="141.6" r="1.7"/><circle cx="558.5" cy="141.7" r="1.7"/><circle cx="565.0" cy="141.7" r="1.7"/><circle cx="571.9" cy="142.1" r="1.7"/><circle cx="578.7" cy="141.9" r="1.7"/><circle cx="582.2" cy="142.0" r="1.7"/><circle cx="588.8" cy="141.9" r="1.7"/><circle cx="591.9" cy="141.8" r="1.7"/><circle cx="595.3" cy="141.9" r="1.7"/><circle cx="599.0" cy="142.0" r="1.7"/><circle cx="602.2" cy="141.8" r="1.7"/><circle cx="609.2" cy="141.6" r="1.7"/><circle cx="612.4" cy="142.2" r="1.7"/><circle cx="616.2" cy="142.3" r="1.7"/><circle cx="619.7" cy="141.9" r="1.7"/><circle cx="623.1" cy="142.2" r="1.7"/><circle cx="629.8" cy="141.8" r="1.7"/><circle cx="640.1" cy="141.6" r="1.7"/><circle cx="643.3" cy="141.7" r="1.7"/><circle cx="646.7" cy="141.5" r="1.7"/><circle cx="649.9" cy="141.8" r="1.7"/><circle cx="653.5" cy="142.1" r="1.7"/><circle cx="656.6" cy="141.7" r="1.7"/><circle cx="659.9" cy="141.6" r="1.7"/><circle cx="663.7" cy="142.3" r="1.7"/><circle cx="479.8" cy="144.8" r="1.7"/><circle cx="493.8" cy="144.8" r="1.7"/><circle cx="507.0" cy="145.2" r="1.7"/><circle cx="510.4" cy="145.0" r="1.7"/><circle cx="517.1" cy="144.8" r="1.7"/><circle cx="537.6" cy="144.6" r="1.7"/><circle cx="544.3" cy="145.0" r="1.7"/><circle cx="547.9" cy="144.8" r="1.7"/><circle cx="557.9" cy="144.9" r="1.7"/><circle cx="575.0" cy="145.2" r="1.7"/><circle cx="592.0" cy="144.6" r="1.7"/><circle cx="629.4" cy="145.1" r="1.7"/><circle cx="643.2" cy="145.2" r="1.7"/><circle cx="653.3" cy="145.0" r="1.7"/><circle cx="480.0" cy="149.9" r="1.7"/><circle cx="486.9" cy="150.2" r="1.7"/><circle cx="490.3" cy="149.8" r="1.7"/><circle cx="507.5" cy="149.6" r="1.7"/><circle cx="510.8" cy="149.8" r="1.7"/><circle cx="514.3" cy="150.3" r="1.7"/><circle cx="517.3" cy="149.7" r="1.7"/><circle cx="520.7" cy="150.3" r="1.7"/><circle cx="524.0" cy="149.7" r="1.7"/><circle cx="527.6" cy="150.1" r="1.7"/><circle cx="541.1" cy="150.3" r="1.7"/><circle cx="544.5" cy="149.9" r="1.7"/><circle cx="548.0" cy="149.5" r="1.7"/><circle cx="551.7" cy="149.6" r="1.7"/><circle cx="558.5" cy="150.0" r="1.7"/><circle cx="564.7" cy="150.1" r="1.7"/><circle cx="568.2" cy="150.2" r="1.7"/><circle cx="575.5" cy="149.9" r="1.7"/><circle cx="578.4" cy="149.8" r="1.7"/><circle cx="585.2" cy="149.6" r="1.7"/><circle cx="588.7" cy="150.2" r="1.7"/><circle cx="592.0" cy="150.3" r="1.7"/><circle cx="602.3" cy="150.3" r="1.7"/><circle cx="612.3" cy="149.8" r="1.7"/><circle cx="643.3" cy="150.2" r="1.7"/><circle cx="650.3" cy="150.2" r="1.7"/><circle cx="653.3" cy="149.7" r="1.7"/><circle cx="657.1" cy="149.8" r="1.7"/><circle cx="663.3" cy="150.2" r="1.7"/><circle cx="480.0" cy="154.3" r="1.7"/><circle cx="483.4" cy="154.1" r="1.7"/><circle cx="486.9" cy="154.0" r="1.7"/><circle cx="490.1" cy="154.0" r="1.7"/><circle cx="493.7" cy="154.5" r="1.7"/><circle cx="503.7" cy="154.5" r="1.7"/><circle cx="507.0" cy="154.1" r="1.7"/><circle cx="510.5" cy="154.2" r="1.7"/><circle cx="514.3" cy="154.1" r="1.7"/><circle cx="517.4" cy="154.4" r="1.7"/><circle cx="524.2" cy="154.2" r="1.7"/><circle cx="527.6" cy="154.4" r="1.7"/><circle cx="530.7" cy="154.4" r="1.7"/><circle cx="534.7" cy="154.0" r="1.7"/><circle cx="537.8" cy="154.4" r="1.7"/><circle cx="541.4" cy="154.3" r="1.7"/><circle cx="544.5" cy="154.1" r="1.7"/><circle cx="547.9" cy="154.2" r="1.7"/><circle cx="554.6" cy="153.9" r="1.7"/><circle cx="558.3" cy="153.8" r="1.7"/><circle cx="561.5" cy="153.9" r="1.7"/><circle cx="565.0" cy="154.4" r="1.7"/><circle cx="568.5" cy="154.4" r="1.7"/><circle cx="572.0" cy="154.1" r="1.7"/><circle cx="575.0" cy="154.4" r="1.7"/><circle cx="578.6" cy="154.4" r="1.7"/><circle cx="581.8" cy="154.4" r="1.7"/><circle cx="585.2" cy="153.7" r="1.7"/><circle cx="588.5" cy="154.4" r="1.7"/><circle cx="592.1" cy="154.0" r="1.7"/><circle cx="595.6" cy="154.2" r="1.7"/><circle cx="599.0" cy="153.8" r="1.7"/><circle cx="605.6" cy="154.1" r="1.7"/><circle cx="609.5" cy="153.8" r="1.7"/><circle cx="612.6" cy="154.0" r="1.7"/><circle cx="619.3" cy="154.0" r="1.7"/><circle cx="623.0" cy="153.9" r="1.7"/><circle cx="626.0" cy="154.2" r="1.7"/><circle cx="629.9" cy="154.1" r="1.7"/><circle cx="632.8" cy="153.9" r="1.7"/><circle cx="636.6" cy="154.1" r="1.7"/><circle cx="640.1" cy="154.2" r="1.7"/><circle cx="643.0" cy="153.9" r="1.7"/><circle cx="650.0" cy="154.2" r="1.7"/><circle cx="653.6" cy="154.4" r="1.7"/><circle cx="660.0" cy="153.7" r="1.7"/><circle cx="663.5" cy="153.9" r="1.7"/><circle cx="670.6" cy="154.5" r="1.7"/><circle cx="480.2" cy="159.6" r="1.7"/><circle cx="483.2" cy="159.3" r="1.7"/><circle cx="486.7" cy="160.0" r="1.7"/><circle cx="493.5" cy="159.6" r="1.7"/><circle cx="496.9" cy="159.5" r="1.7"/><circle cx="500.3" cy="159.4" r="1.7"/><circle cx="503.8" cy="159.8" r="1.7"/><circle cx="507.3" cy="159.5" r="1.7"/><circle cx="510.7" cy="159.4" r="1.7"/><circle cx="517.4" cy="159.8" r="1.7"/><circle cx="520.8" cy="159.3" r="1.7"/><circle cx="531.0" cy="159.5" r="1.7"/><circle cx="537.6" cy="160.0" r="1.7"/><circle cx="544.9" cy="159.7" r="1.7"/><circle cx="548.1" cy="159.6" r="1.7"/><circle cx="551.5" cy="159.4" r="1.7"/><circle cx="555.0" cy="159.7" r="1.7"/><circle cx="558.4" cy="159.7" r="1.7"/><circle cx="561.6" cy="160.0" r="1.7"/><circle cx="564.8" cy="159.9" r="1.7"/><circle cx="568.3" cy="160.0" r="1.7"/><circle cx="575.5" cy="160.0" r="1.7"/><circle cx="578.5" cy="159.3" r="1.7"/><circle cx="582.1" cy="159.6" r="1.7"/><circle cx="585.4" cy="159.5" r="1.7"/><circle cx="588.8" cy="159.6" r="1.7"/><circle cx="592.2" cy="159.6" r="1.7"/><circle cx="595.4" cy="159.6" r="1.7"/><circle cx="598.9" cy="159.8" r="1.7"/><circle cx="602.1" cy="159.7" r="1.7"/><circle cx="605.8" cy="159.4" r="1.7"/><circle cx="609.2" cy="160.0" r="1.7"/><circle cx="615.9" cy="159.4" r="1.7"/><circle cx="619.3" cy="160.1" r="1.7"/><circle cx="623.1" cy="159.7" r="1.7"/><circle cx="626.1" cy="160.1" r="1.7"/><circle cx="629.6" cy="159.7" r="1.7"/><circle cx="632.8" cy="160.1" r="1.7"/><circle cx="640.0" cy="159.4" r="1.7"/><circle cx="643.4" cy="159.5" r="1.7"/><circle cx="646.9" cy="159.6" r="1.7"/><circle cx="653.5" cy="159.5" r="1.7"/><circle cx="656.7" cy="160.0" r="1.7"/><circle cx="660.2" cy="159.8" r="1.7"/><circle cx="663.8" cy="159.5" r="1.7"/><circle cx="667.1" cy="159.6" r="1.7"/><circle cx="670.2" cy="159.8" r="1.7"/><circle cx="480.2" cy="163.3" r="1.7"/><circle cx="497.0" cy="163.5" r="1.7"/><circle cx="503.6" cy="163.7" r="1.7"/><circle cx="517.4" cy="163.4" r="1.7"/><circle cx="524.0" cy="163.4" r="1.7"/><circle cx="530.7" cy="163.0" r="1.7"/><circle cx="558.1" cy="163.5" r="1.7"/><circle cx="561.3" cy="163.3" r="1.7"/><circle cx="572.0" cy="163.2" r="1.7"/><circle cx="609.1" cy="163.4" r="1.7"/><circle cx="622.5" cy="163.2" r="1.7"/><circle cx="626.2" cy="163.1" r="1.7"/><circle cx="653.6" cy="163.3" r="1.7"/><circle cx="657.1" cy="163.4" r="1.7"/><circle cx="667.3" cy="163.0" r="1.7"/><circle cx="483.4" cy="171.7" r="1.7"/><circle cx="487.1" cy="171.6" r="1.7"/><circle cx="490.2" cy="171.3" r="1.7"/><circle cx="493.8" cy="172.0" r="1.7"/><circle cx="497.1" cy="171.5" r="1.7"/><circle cx="500.3" cy="171.5" r="1.7"/><circle cx="503.9" cy="171.4" r="1.7"/><circle cx="510.9" cy="171.5" r="1.7"/><circle cx="514.1" cy="171.7" r="1.7"/><circle cx="520.9" cy="171.4" r="1.7"/><circle cx="524.2" cy="172.1" r="1.7"/><circle cx="527.3" cy="171.8" r="1.7"/><circle cx="534.5" cy="171.7" r="1.7"/><circle cx="537.8" cy="171.8" r="1.7"/><circle cx="541.1" cy="171.9" r="1.7"/><circle cx="544.6" cy="171.5" r="1.7"/><circle cx="548.1" cy="171.9" r="1.7"/><circle cx="554.6" cy="171.6" r="1.7"/><circle cx="558.0" cy="171.8" r="1.7"/><circle cx="561.4" cy="171.4" r="1.7"/><circle cx="564.8" cy="171.7" r="1.7"/><circle cx="568.6" cy="171.8" r="1.7"/><circle cx="571.8" cy="171.3" r="1.7"/><circle cx="575.4" cy="171.6" r="1.7"/><circle cx="578.5" cy="171.5" r="1.7"/><circle cx="581.8" cy="171.8" r="1.7"/><circle cx="585.5" cy="171.4" r="1.7"/><circle cx="592.1" cy="171.7" r="1.7"/><circle cx="595.4" cy="171.6" r="1.7"/><circle cx="599.1" cy="172.0" r="1.7"/><circle cx="602.6" cy="171.9" r="1.7"/><circle cx="606.1" cy="171.4" r="1.7"/><circle cx="616.1" cy="172.1" r="1.7"/><circle cx="619.6" cy="172.0" r="1.7"/><circle cx="622.6" cy="171.5" r="1.7"/><circle cx="629.5" cy="171.7" r="1.7"/><circle cx="636.1" cy="172.1" r="1.7"/><circle cx="639.7" cy="172.1" r="1.7"/><circle cx="643.0" cy="172.0" r="1.7"/><circle cx="646.4" cy="172.1" r="1.7"/><circle cx="650.2" cy="171.6" r="1.7"/><circle cx="653.2" cy="171.7" r="1.7"/><circle cx="656.7" cy="171.7" r="1.7"/><circle cx="660.4" cy="172.0" r="1.7"/><circle cx="670.3" cy="171.5" r="1.7"/><circle cx="480.3" cy="179.5" r="1.7"/><circle cx="490.2" cy="178.8" r="1.7"/><circle cx="521.0" cy="179.1" r="1.7"/><circle cx="537.8" cy="178.8" r="1.7"/><circle cx="554.7" cy="179.2" r="1.7"/><circle cx="585.2" cy="179.5" r="1.7"/><circle cx="612.6" cy="179.2" r="1.7"/><circle cx="636.6" cy="178.9" r="1.7"/><circle cx="646.6" cy="179.5" r="1.7"/><circle cx="660.1" cy="178.9" r="1.7"/><circle cx="520.6" cy="183.0" r="1.7"/><circle cx="524.2" cy="183.1" r="1.7"/><circle cx="547.8" cy="182.8" r="1.7"/><circle cx="636.7" cy="183.0" r="1.7"/><circle cx="524.2" cy="191.6" r="1.7"/><circle cx="547.8" cy="191.4" r="1.7"/><circle cx="575.2" cy="191.6" r="1.7"/><circle cx="578.8" cy="191.5" r="1.7"/><circle cx="605.8" cy="191.5" r="1.7"/><circle cx="615.7" cy="191.3" r="1.7"/><circle cx="619.6" cy="191.7" r="1.7"/><circle cx="633.2" cy="191.4" r="1.7"/><circle cx="670.7" cy="191.9" r="1.7"/><circle cx="420.0" cy="150.0" r="1.7"/><circle cx="418.0" cy="155.0" r="1.7"/><circle cx="406.0" cy="155.0" r="1.7"/><circle cx="397.0" cy="124.0" r="1.7"/><circle cx="401.0" cy="141.0" r="1.7"/></g>
<line x1="411.4" y1="110.6" x2="439.1" y2="110.6" stroke="#5ea6dd" stroke-width="4.2"/>
<line x1="643" y1="154.6" x2="671.5" y2="154.6" stroke="#f7a04a" stroke-width="4.2"/>
<path d="M375.9 78.2 L375.9 196.9 L683.7 196.9" fill="none" stroke="#333" stroke-width="1.3"/>
<path d="M375.9 191.6 h5.8 M375.9 121.5 h5.8 M437.75 196.9 v-5.6 M533.5 196.9 v-5.6 M629.3 196.9 v-5.6" stroke="#222" stroke-width="1.1"/>
<g font-size="15.5"><text x="370.8" y="127" text-anchor="end">2</text><text x="370.8" y="196.7" text-anchor="end">0</text>
<text x="437.75" y="213" text-anchor="middle">0</text><text x="533.5" y="213" text-anchor="middle">20</text><text x="629.3" y="213" text-anchor="middle">40</text>
<text x="531.1" y="232.2" text-anchor="middle" textLength="75.9" lengthAdjust="spacing">Time (min)</text>
<text transform="translate(354.4 137.4) rotate(-90)" text-anchor="middle" textLength="153.3" lengthAdjust="spacing">EPSP amplitude (mV)</text></g>
<line x1="385.6" y1="139.6" x2="416.9" y2="139.6" stroke="#5ea6dd" stroke-width="4.3"/>
<line x1="385.6" y1="158.6" x2="416.9" y2="158.6" stroke="#f7a04a" stroke-width="4.3"/>
<rect x="386.7" y="172.1" width="29" height="10.9" fill="#d3d3d3"/>
<g font-size="13.3"><text x="425" y="144.1">baseline</text><text x="425" y="162.9">long term</text><text x="425" y="182.2">induction</text></g>
<text x="324.6" y="266.4" font-size="29">c</text>
<text x="505.6" y="265.5" font-size="18.8" text-anchor="middle" textLength="168.9" lengthAdjust="spacing">Frequency = 0.2 Hz</text>
<path d="M372.8 288.8 L372.8 439.6 L517 439.6" fill="none" stroke="#222" stroke-width="1.3"/>
<path d="M372.8 315.2 h5.6 M372.8 388.8 h5.6 M407.9 439.6 v-5.6 M457.2 439.6 v-5.6 M507.2 439.6 v-5.6" stroke="#222" stroke-width="1.1"/>
<path d="M372.8 388.8 H517 M457.2 356.4 V439.6" stroke="#000" stroke-width="1.1" stroke-dasharray="3.7 1.6" fill="none"/>
<line x1="379.2" y1="404.7" x2="379.2" y2="417.9" stroke="#5ea6dd" stroke-width="1.6"/><circle cx="379.2" cy="411.3" r="4" fill="#5ea6dd"/>
<line x1="386.2" y1="415.1" x2="386.2" y2="432.8" stroke="#f7a04a" stroke-width="1.6"/><circle cx="386.2" cy="423.9" r="4" fill="#f7a04a"/>
<line x1="384.2" y1="306.4" x2="411.8" y2="306.4" stroke="#5ea6dd" stroke-width="1.3"/><line x1="398" y1="299.5" x2="398" y2="312.6" stroke="#5ea6dd" stroke-width="1.6"/><circle cx="398" cy="306.4" r="4.1" fill="#5ea6dd"/>
<line x1="384.2" y1="325.2" x2="411.8" y2="325.2" stroke="#f7a04a" stroke-width="1.3"/><line x1="398" y1="318.3" x2="398" y2="331.8" stroke="#f7a04a" stroke-width="1.6"/><circle cx="398" cy="325.2" r="4.1" fill="#f7a04a"/>
<g font-size="13.3"><text x="422.3" y="310.8">in silico</text><text x="422.3" y="329.4">in vitro</text></g>
<g font-size="15.4"><text x="367.6" y="321" text-anchor="end">1.5</text><text x="367.6" y="394.5" text-anchor="end">1.0</text>
<text x="407.5" y="455.8" text-anchor="middle" textLength="27.9" lengthAdjust="spacing">−10</text><text x="457.2" y="455.8" text-anchor="middle">0</text><text x="507.2" y="455.8" text-anchor="middle">10</text>
<text x="445.6" y="473.2" text-anchor="middle" textLength="54" lengthAdjust="spacing">Δ<tspan font-style="italic">t</tspan> (ms)</text>
<text transform="translate(337.4 363.15) rotate(-90)" text-anchor="middle" textLength="78.3" lengthAdjust="spacing">EPSP ratio</text></g>
<path d="M540 288.8 L540 439.5 L685 439.5" fill="none" stroke="#222" stroke-width="1.3"/>
<path d="M540 315.2 h5.8 M540 388.8 h5.8 M575.3 439.5 v-5.6 M624.6 439.5 v-5.6 M674.4 439.5 v-5.6" stroke="#222" stroke-width="1.1"/>
<path d="M540 388.9 H573.3 M624.4 290 V358" stroke="#000" stroke-width="1.1" stroke-dasharray="3.7 1.6" fill="none"/>
<line x1="546.5" y1="369.1" x2="671" y2="310.2" stroke="#5ea6dd" stroke-width="1.3"/>
<line x1="553.7" y1="383.6" x2="677.8" y2="309.6" stroke="#f7a04a" stroke-width="1.3"/>
<line x1="546.5" y1="362" x2="546.5" y2="375" stroke="#5ea6dd" stroke-width="1.6"/><polygon points="546.5,365.15 550.45,373.05 542.55,373.05" fill="#5ea6dd" stroke="#5ea6dd" stroke-width="1.1" stroke-linejoin="miter" stroke-miterlimit="10"/>
<line x1="671" y1="296" x2="671" y2="324.6" stroke="#5ea6dd" stroke-width="1.6" opacity="0.8"/><polygon points="671,306.25 674.95,314.15 667.05,314.15" fill="#5ea6dd" stroke="#5ea6dd" stroke-width="1.1" stroke-linejoin="miter" stroke-miterlimit="10"/>
<line x1="553.7" y1="374.1" x2="553.7" y2="391.9" stroke="#f7a04a" stroke-width="1.6"/><polygon points="553.7,379.65 557.65,387.55 549.75,387.55" fill="#f7a04a" stroke="#f7a04a" stroke-width="1.1" stroke-linejoin="miter" stroke-miterlimit="10"/>
<line x1="677.8" y1="302.3" x2="677.8" y2="316.7" stroke="#f7a04a" stroke-width="1.6"/><polygon points="677.8,305.65 681.75,313.55 673.85,313.55" fill="#f7a04a" stroke="#f7a04a" stroke-width="1.1" stroke-linejoin="miter" stroke-miterlimit="10"/>
<line x1="579.5" y1="381.3" x2="606.8" y2="381.3" stroke="#5ea6dd" stroke-width="1.3"/><line x1="593.1" y1="374.5" x2="593.1" y2="387.6" stroke="#5ea6dd" stroke-width="1.6"/><polygon points="593.1,377.05 597.05,384.95 589.15,384.95" fill="#5ea6dd" stroke="#5ea6dd" stroke-width="1.1" stroke-linejoin="miter" stroke-miterlimit="10"/>
<line x1="579.5" y1="414.6" x2="606.8" y2="414.6" stroke="#f7a04a" stroke-width="1.3"/><line x1="593.1" y1="408" x2="593.1" y2="421.6" stroke="#f7a04a" stroke-width="1.6"/><polygon points="593.1,410.75 597.05,418.65 589.15,418.65" fill="#f7a04a" stroke="#f7a04a" stroke-width="1.1" stroke-linejoin="miter" stroke-miterlimit="10"/>
<g font-size="13.3"><text x="617" y="376.9">in silico</text><text x="617" y="390.5">(<tspan font-style="italic">γ</tspan><tspan font-style="italic" font-size="9.5" dy="2.5">d</tspan><tspan x="638.2" dy="-2.5">=</tspan><tspan x="651.5">0</tspan><tspan x="661.2">)</tspan></text><text x="617" y="410.6">in vitro</text><text x="617" y="423.9">(MK-801)</text></g>
<g font-size="15.4"><text x="574.9" y="455.8" text-anchor="middle" textLength="27.9" lengthAdjust="spacing">−10</text><text x="624.6" y="455.8" text-anchor="middle">0</text><text x="674.4" y="455.8" text-anchor="middle">10</text>
<text x="613" y="473.2" text-anchor="middle" textLength="54" lengthAdjust="spacing">Δ<tspan font-style="italic">t</tspan> (ms)</text></g>
</svg></body></html>
